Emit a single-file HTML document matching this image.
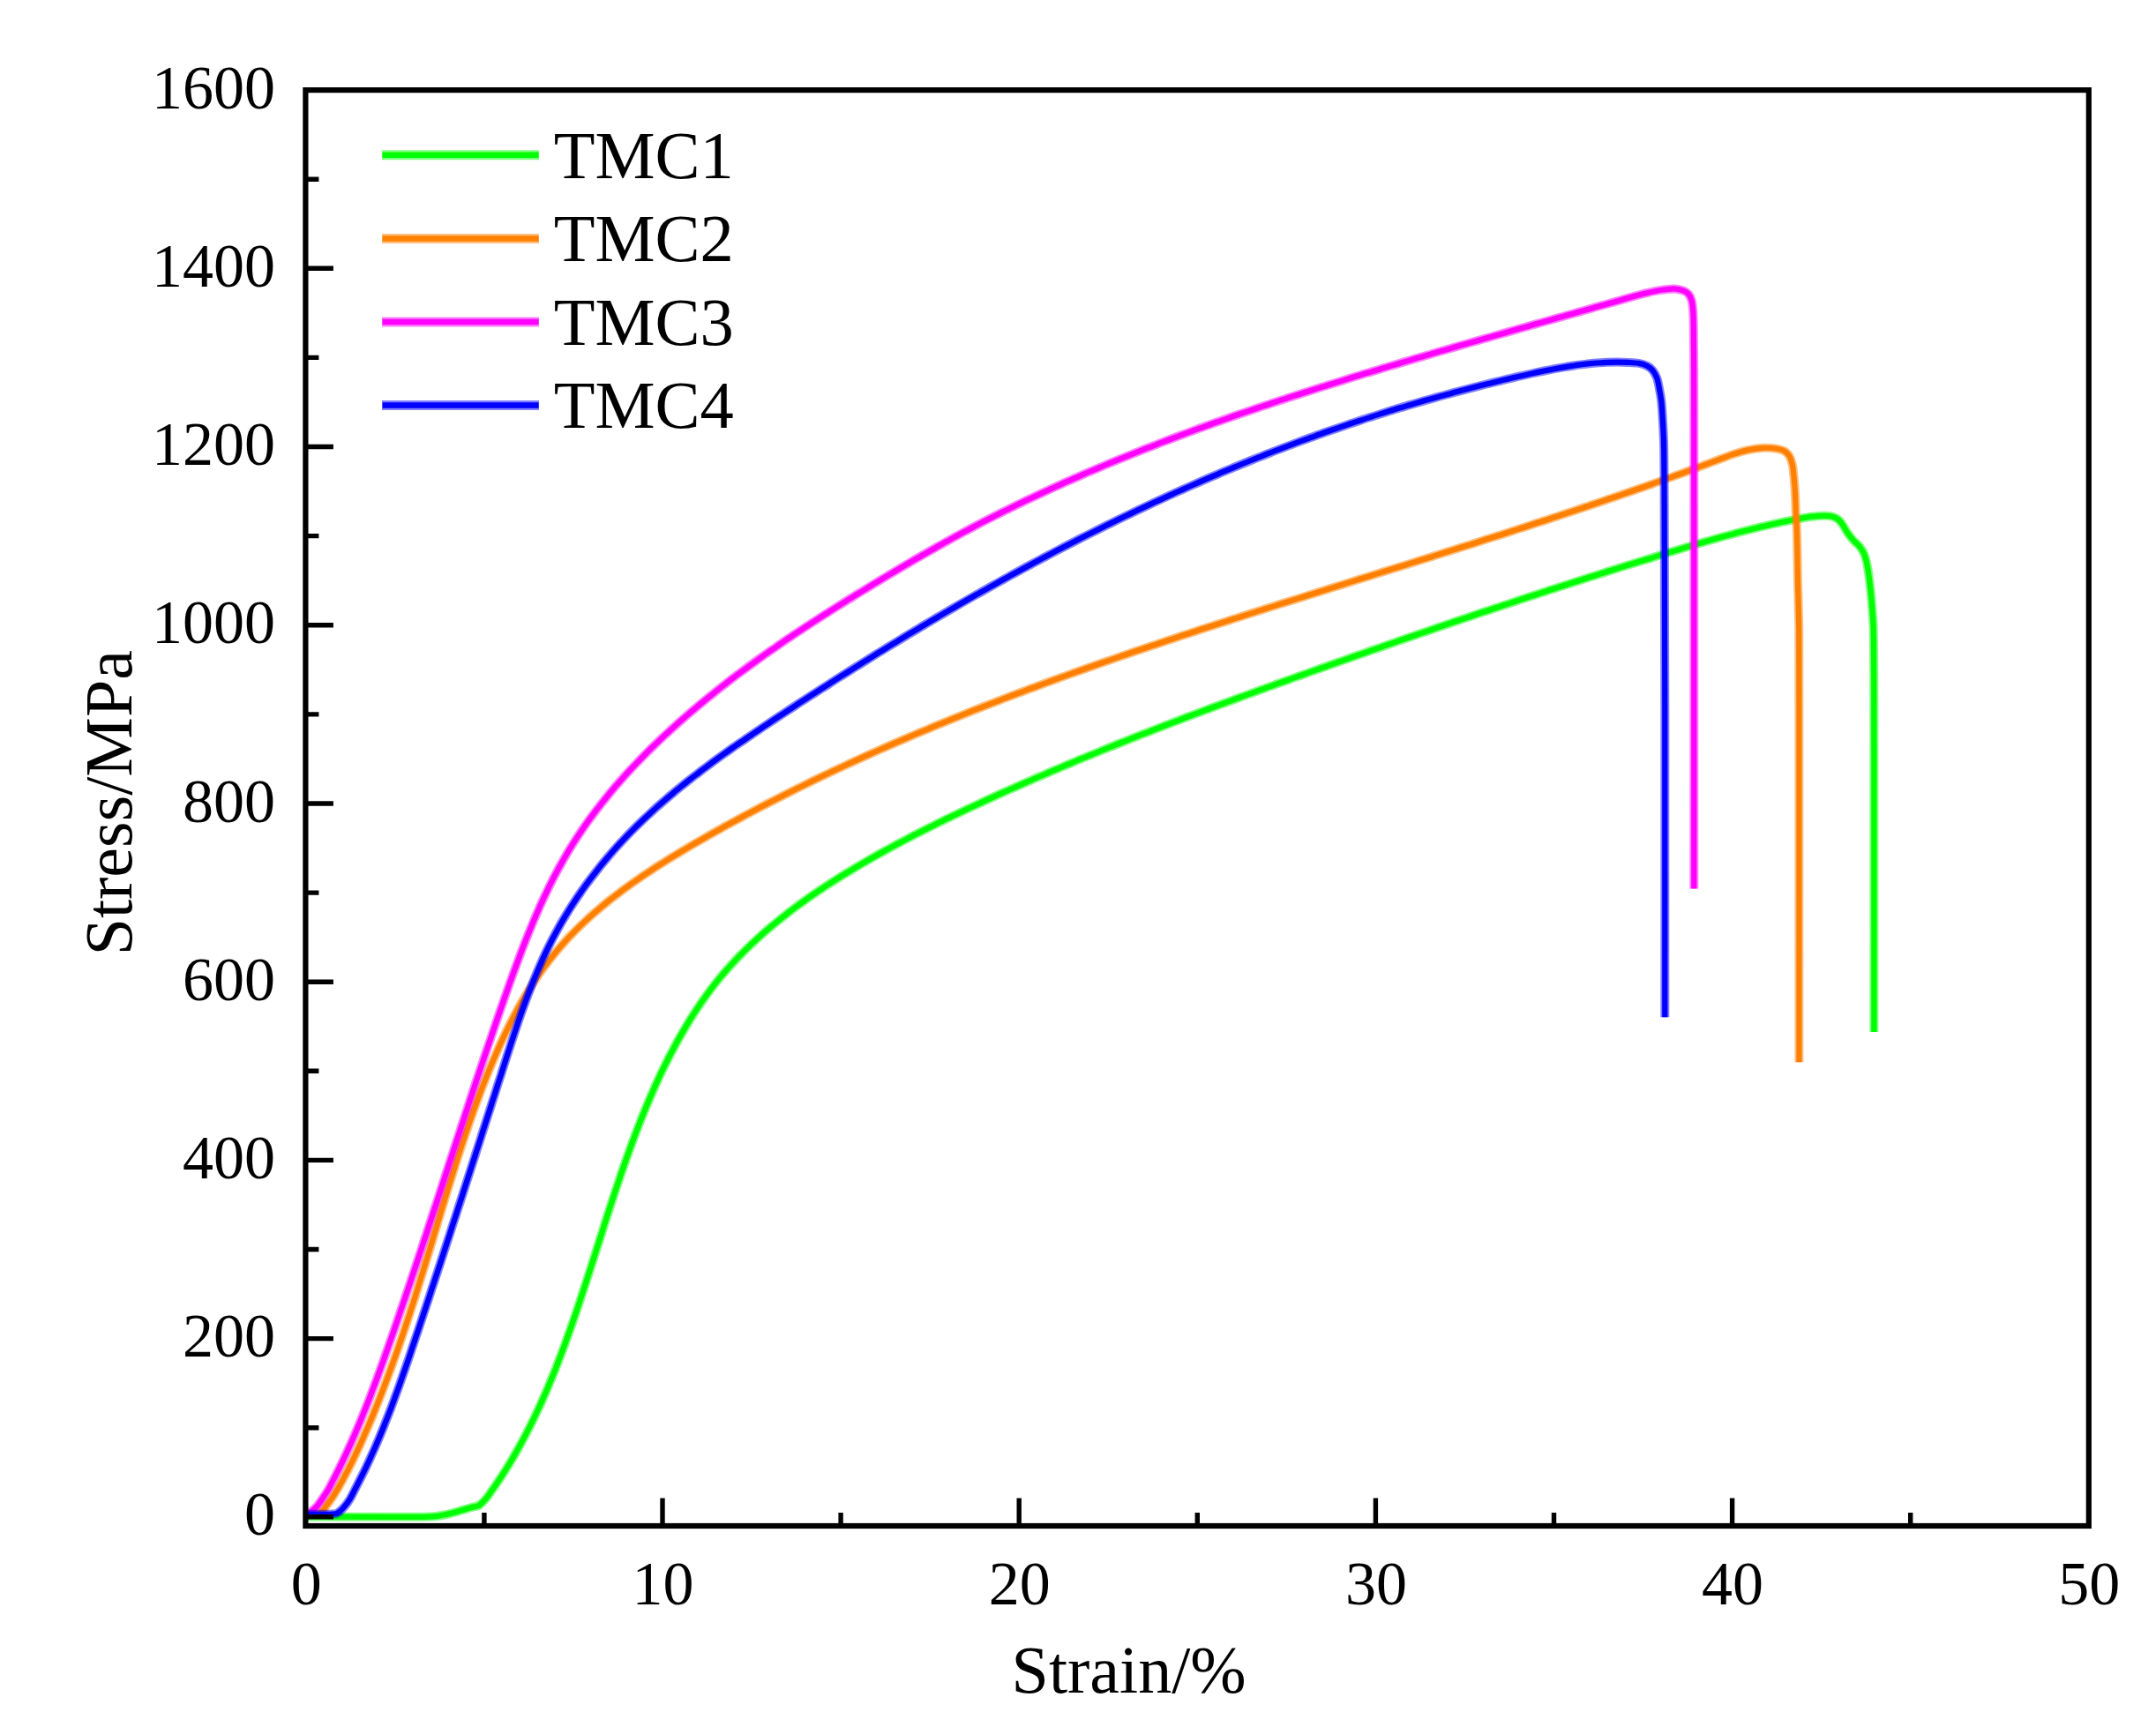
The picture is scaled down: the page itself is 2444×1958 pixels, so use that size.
<!DOCTYPE html>
<html lang="en"><head><meta charset="utf-8"><title>Stress-strain curves</title>
<style>html,body{margin:0;padding:0;background:#fff}body{width:2444px;height:1958px;overflow:hidden}svg{display:block}text{font-family:"Liberation Serif",serif;fill:#000}.t{font-size:70px}.l{font-size:76px}.g{font-size:76.5px}</style></head><body>
<svg width="2444" height="1958" viewBox="0 0 2444 1958">
<rect width="2444" height="1958" fill="#fff"/>
<g fill="none" stroke-width="6.2" stroke-linejoin="round" stroke-linecap="butt">
<path stroke="#00ff00" stroke-opacity=".5" stroke-width="10" d="M348.8 1719.6 C379.2 1719.7 417.8 1719.8 440.0 1719.8 C452.7 1719.8 461.6 1719.9 470.0 1719.8 C476.2 1719.8 481.3 1719.8 486.0 1719.6 C489.7 1719.4 492.6 1719.2 496.0 1718.8 C499.6 1718.3 503.1 1717.7 507.0 1716.8 C511.4 1715.8 516.3 1714.3 520.9 1713.0 C525.5 1711.7 530.8 1710.1 534.8 1709.0 C537.9 1708.2 540.3 1707.6 543.1 1706.9 C543.1 1706.9 543.1 1706.9 543.1 1706.9 C545.7 1704.4 548.4 1702.1 550.8 1699.3 C553.3 1696.4 555.5 1692.8 557.8 1689.5 C560.2 1686.2 562.4 1682.9 564.7 1679.5 C566.9 1676.2 569.1 1672.8 571.2 1669.5 C573.4 1666.1 575.5 1662.7 577.6 1659.3 C579.6 1655.8 581.7 1652.4 583.7 1648.9 C585.7 1645.5 587.6 1642.0 589.5 1638.5 C591.5 1635.0 593.3 1631.5 595.2 1628.0 C597.0 1624.5 598.9 1620.9 600.6 1617.4 C602.4 1613.8 604.2 1610.2 605.9 1606.7 C607.6 1603.1 609.3 1599.5 611.0 1595.8 C612.7 1592.2 614.3 1588.6 615.9 1584.9 C617.5 1581.3 619.1 1577.6 620.7 1574.0 C622.2 1570.3 623.8 1566.6 625.3 1562.9 C626.8 1559.2 628.3 1555.5 629.8 1551.8 C631.2 1548.0 632.7 1544.3 634.1 1540.6 C635.6 1536.8 637.0 1533.1 638.4 1529.3 C639.8 1525.5 641.2 1521.8 642.5 1518.0 C643.9 1514.2 645.3 1510.4 646.6 1506.6 C647.9 1502.8 649.3 1499.0 650.6 1495.1 C651.9 1491.3 653.2 1487.5 654.5 1483.7 C655.8 1479.8 657.1 1476.0 658.3 1472.1 C659.6 1468.3 660.9 1464.4 662.1 1460.6 C663.4 1456.7 664.6 1452.9 665.9 1449.0 C667.1 1445.1 668.4 1441.3 669.6 1437.4 C670.9 1433.5 672.1 1429.6 673.3 1425.8 C674.6 1421.9 675.8 1418.0 677.0 1414.1 C678.3 1410.3 679.5 1406.4 680.7 1402.5 C682.0 1398.6 683.2 1394.7 684.4 1390.9 C685.7 1387.0 686.9 1383.1 688.1 1379.2 C689.4 1375.4 690.6 1371.5 691.9 1367.6 C693.1 1363.8 694.4 1359.9 695.7 1356.0 C696.9 1352.2 698.2 1348.3 699.5 1344.5 C700.8 1340.6 702.1 1336.8 703.4 1332.9 C704.7 1329.1 706.0 1325.2 707.4 1321.4 C708.7 1317.6 710.0 1313.8 711.4 1310.0 C712.8 1306.2 714.1 1302.3 715.5 1298.6 C716.9 1294.8 718.3 1291.0 719.7 1287.2 C721.2 1283.4 722.6 1279.7 724.1 1275.9 C725.5 1272.2 727.0 1268.4 728.5 1264.7 C730.0 1260.9 731.5 1257.2 733.1 1253.5 C734.6 1249.8 736.2 1246.1 737.8 1242.4 C739.4 1238.8 741.0 1235.1 742.6 1231.4 C744.3 1227.8 745.9 1224.2 747.6 1220.5 C749.3 1216.9 751.0 1213.3 752.8 1209.7 C754.5 1206.2 756.3 1202.6 758.1 1199.0 C759.9 1195.5 761.8 1191.9 763.7 1188.4 C765.5 1184.9 767.4 1181.4 769.4 1177.9 C771.3 1174.5 773.3 1171.0 775.3 1167.6 C777.3 1164.2 779.4 1160.7 781.4 1157.4 C783.5 1154.0 785.7 1150.6 787.8 1147.3 C790.0 1144.0 792.2 1140.7 794.4 1137.4 C796.7 1134.1 799.0 1130.9 801.3 1127.7 C803.6 1124.5 806.0 1121.3 808.4 1118.2 C810.8 1115.1 813.3 1112.0 815.8 1108.9 C818.3 1105.9 820.9 1102.8 823.5 1099.9 C826.1 1096.9 828.8 1093.9 831.5 1091.0 C834.2 1088.1 836.9 1085.2 839.7 1082.4 C842.5 1079.5 845.3 1076.7 848.1 1074.0 C851.0 1071.2 853.9 1068.5 856.8 1065.8 C859.8 1063.0 862.7 1060.4 865.7 1057.7 C868.7 1055.1 871.8 1052.5 874.8 1049.9 C877.9 1047.3 881.0 1044.8 884.1 1042.3 C887.3 1039.7 890.4 1037.3 893.6 1034.8 C896.8 1032.3 900.0 1029.9 903.3 1027.5 C906.5 1025.1 909.8 1022.7 913.1 1020.4 C916.4 1018.0 919.7 1015.7 923.0 1013.4 C926.4 1011.1 929.7 1008.9 933.1 1006.6 C936.5 1004.4 939.9 1002.2 943.3 1000.0 C946.7 997.8 950.2 995.6 953.6 993.4 C957.1 991.3 960.5 989.2 964.0 987.1 C967.5 985.0 971.0 982.9 974.5 980.8 C978.0 978.8 981.5 976.7 985.0 974.7 C988.5 972.7 992.1 970.7 995.6 968.7 C999.2 966.7 1002.7 964.8 1006.3 962.8 C1009.8 960.9 1013.4 958.9 1016.9 957.0 C1020.5 955.1 1024.1 953.2 1027.7 951.4 C1031.2 949.5 1034.8 947.6 1038.4 945.8 C1042.0 943.9 1045.6 942.1 1049.2 940.3 C1052.8 938.5 1056.4 936.7 1060.0 934.9 C1063.6 933.1 1067.2 931.3 1070.8 929.5 C1074.5 927.8 1078.1 926.0 1081.7 924.3 C1085.3 922.6 1089.0 920.8 1092.6 919.1 C1096.2 917.4 1099.9 915.7 1103.5 914.0 C1107.2 912.3 1110.8 910.6 1114.5 908.9 C1118.1 907.2 1121.8 905.5 1125.4 903.9 C1129.1 902.2 1132.7 900.6 1136.4 898.9 C1140.1 897.2 1143.7 895.6 1147.4 894.0 C1151.1 892.3 1154.8 890.7 1158.4 889.1 C1162.1 887.5 1165.8 885.9 1169.5 884.3 C1173.2 882.6 1176.8 881.0 1180.5 879.5 C1184.2 877.9 1187.9 876.3 1191.6 874.7 C1195.3 873.1 1199.0 871.6 1202.7 870.0 C1206.4 868.4 1210.1 866.9 1213.8 865.3 C1217.5 863.8 1221.2 862.2 1224.9 860.7 C1228.7 859.2 1232.4 857.6 1236.1 856.1 C1239.8 854.6 1243.5 853.1 1247.3 851.5 C1251.0 850.0 1254.7 848.5 1258.4 847.0 C1262.2 845.5 1265.9 844.0 1269.6 842.5 C1273.3 841.1 1277.1 839.6 1280.8 838.1 C1284.5 836.6 1288.3 835.1 1292.0 833.7 C1295.8 832.2 1299.5 830.7 1303.3 829.3 C1307.0 827.8 1310.7 826.4 1314.5 824.9 C1318.2 823.5 1322.0 822.0 1325.7 820.6 C1329.5 819.2 1333.2 817.7 1337.0 816.3 C1340.7 814.9 1344.5 813.4 1348.3 812.0 C1352.0 810.6 1355.8 809.2 1359.5 807.8 C1363.3 806.4 1367.1 804.9 1370.8 803.5 C1374.6 802.1 1378.4 800.7 1382.1 799.3 C1385.9 797.9 1389.7 796.6 1393.4 795.2 C1397.2 793.8 1401.0 792.4 1404.7 791.0 C1408.5 789.6 1412.3 788.2 1416.0 786.9 C1419.8 785.5 1423.6 784.1 1427.4 782.7 C1431.1 781.4 1434.9 780.0 1438.7 778.6 C1442.5 777.3 1446.2 775.9 1450.0 774.6 C1453.8 773.2 1457.6 771.8 1461.4 770.5 C1465.1 769.1 1468.9 767.8 1472.7 766.4 C1476.5 765.1 1480.3 763.7 1484.0 762.4 C1487.8 761.0 1491.6 759.7 1495.4 758.3 C1499.2 757.0 1503.0 755.7 1506.7 754.3 C1510.5 753.0 1514.3 751.6 1518.1 750.3 C1521.9 749.0 1525.7 747.6 1529.4 746.3 C1533.2 745.0 1537.0 743.6 1540.8 742.3 C1544.6 741.0 1548.4 739.6 1552.1 738.3 C1555.9 737.0 1559.7 735.7 1563.5 734.4 C1567.3 733.0 1571.1 731.7 1574.9 730.4 C1578.7 729.1 1582.4 727.8 1586.2 726.4 C1590.0 725.1 1593.8 723.8 1597.6 722.5 C1601.4 721.2 1605.2 719.9 1609.0 718.6 C1612.8 717.3 1616.6 716.0 1620.4 714.7 C1624.2 713.4 1627.9 712.1 1631.7 710.8 C1635.5 709.5 1639.3 708.2 1643.1 706.9 C1646.9 705.6 1650.7 704.3 1654.5 703.0 C1658.3 701.7 1662.1 700.5 1665.9 699.2 C1669.7 697.9 1673.5 696.6 1677.3 695.3 C1681.1 694.0 1684.9 692.8 1688.8 691.5 C1692.6 690.2 1696.4 688.9 1700.2 687.7 C1704.0 686.4 1707.8 685.1 1711.6 683.9 C1715.4 682.6 1719.2 681.4 1723.0 680.1 C1726.8 678.8 1730.7 677.6 1734.5 676.3 C1738.3 675.1 1742.1 673.8 1745.9 672.6 C1749.7 671.3 1753.6 670.1 1757.4 668.8 C1761.2 667.6 1765.0 666.3 1768.8 665.1 C1772.7 663.9 1776.5 662.6 1780.3 661.4 C1784.1 660.2 1788.0 658.9 1791.8 657.7 C1795.6 656.5 1799.5 655.3 1803.3 654.0 C1807.1 652.8 1811.0 651.6 1814.8 650.4 C1818.6 649.2 1822.5 647.9 1826.3 646.7 C1830.2 645.5 1834.0 644.3 1837.8 643.1 C1841.7 641.9 1845.5 640.7 1849.4 639.5 C1853.2 638.3 1857.1 637.1 1860.9 635.9 C1864.8 634.7 1868.6 633.5 1872.5 632.4 C1876.3 631.2 1880.2 630.0 1884.0 628.8 C1887.9 627.6 1891.8 626.5 1895.6 625.3 C1899.5 624.1 1903.3 622.9 1907.2 621.8 C1911.1 620.6 1914.9 619.5 1918.8 618.3 C1922.7 617.2 1926.6 616.0 1930.4 614.9 C1934.3 613.8 1938.2 612.7 1942.1 611.6 C1945.9 610.5 1949.8 609.4 1953.7 608.3 C1957.6 607.3 1961.5 606.2 1965.4 605.2 C1969.2 604.1 1973.1 603.1 1977.0 602.1 C1980.9 601.1 1984.8 600.1 1988.7 599.2 C1992.6 598.2 1996.5 597.3 2000.4 596.4 C2004.3 595.5 2008.2 594.6 2012.1 593.7 C2016.0 592.9 2019.9 592.0 2023.9 591.2 C2027.8 590.4 2031.2 589.7 2035.6 588.9 C2041.1 587.9 2048.4 586.4 2054.2 585.7 C2059.2 585.1 2063.9 584.7 2068.1 584.8 C2071.5 584.9 2074.6 584.9 2077.4 585.7 C2079.8 586.4 2082.0 587.5 2083.9 589.0 C2085.7 590.5 2087.0 592.4 2088.5 594.5 C2090.4 597.1 2092.1 600.8 2094.1 603.8 C2096.1 606.7 2098.3 609.6 2100.6 612.2 C2102.9 614.8 2105.9 617.0 2108.0 619.6 C2109.9 622.0 2111.5 624.4 2112.7 627.0 C2113.9 629.6 2114.6 632.2 2115.4 635.3 C2116.3 638.9 2117.1 643.2 2117.8 647.4 C2118.5 651.9 2119.0 656.3 2119.6 661.3 C2120.3 667.0 2120.9 673.7 2121.5 679.9 C2122.0 686.1 2122.5 692.9 2122.9 698.4 C2123.2 702.7 2123.4 704.8 2123.6 710.0 C2124.0 720.8 2124.1 740.9 2124.2 760.0 C2124.4 785.6 2124.4 810.8 2124.4 850.0 C2124.5 923.9 2124.4 1063.3 2124.4 1169.9"/>
<path stroke="#00ff00" d="M348.8 1719.6 C379.2 1719.7 417.8 1719.8 440.0 1719.8 C452.7 1719.8 461.6 1719.9 470.0 1719.8 C476.2 1719.8 481.3 1719.8 486.0 1719.6 C489.7 1719.4 492.6 1719.2 496.0 1718.8 C499.6 1718.3 503.1 1717.7 507.0 1716.8 C511.4 1715.8 516.3 1714.3 520.9 1713.0 C525.5 1711.7 530.8 1710.1 534.8 1709.0 C537.9 1708.2 540.3 1707.6 543.1 1706.9 C543.1 1706.9 543.1 1706.9 543.1 1706.9 C545.7 1704.4 548.4 1702.1 550.8 1699.3 C553.3 1696.4 555.5 1692.8 557.8 1689.5 C560.2 1686.2 562.4 1682.9 564.7 1679.5 C566.9 1676.2 569.1 1672.8 571.2 1669.5 C573.4 1666.1 575.5 1662.7 577.6 1659.3 C579.6 1655.8 581.7 1652.4 583.7 1648.9 C585.7 1645.5 587.6 1642.0 589.5 1638.5 C591.5 1635.0 593.3 1631.5 595.2 1628.0 C597.0 1624.5 598.9 1620.9 600.6 1617.4 C602.4 1613.8 604.2 1610.2 605.9 1606.7 C607.6 1603.1 609.3 1599.5 611.0 1595.8 C612.7 1592.2 614.3 1588.6 615.9 1584.9 C617.5 1581.3 619.1 1577.6 620.7 1574.0 C622.2 1570.3 623.8 1566.6 625.3 1562.9 C626.8 1559.2 628.3 1555.5 629.8 1551.8 C631.2 1548.0 632.7 1544.3 634.1 1540.6 C635.6 1536.8 637.0 1533.1 638.4 1529.3 C639.8 1525.5 641.2 1521.8 642.5 1518.0 C643.9 1514.2 645.3 1510.4 646.6 1506.6 C647.9 1502.8 649.3 1499.0 650.6 1495.1 C651.9 1491.3 653.2 1487.5 654.5 1483.7 C655.8 1479.8 657.1 1476.0 658.3 1472.1 C659.6 1468.3 660.9 1464.4 662.1 1460.6 C663.4 1456.7 664.6 1452.9 665.9 1449.0 C667.1 1445.1 668.4 1441.3 669.6 1437.4 C670.9 1433.5 672.1 1429.6 673.3 1425.8 C674.6 1421.9 675.8 1418.0 677.0 1414.1 C678.3 1410.3 679.5 1406.4 680.7 1402.5 C682.0 1398.6 683.2 1394.7 684.4 1390.9 C685.7 1387.0 686.9 1383.1 688.1 1379.2 C689.4 1375.4 690.6 1371.5 691.9 1367.6 C693.1 1363.8 694.4 1359.9 695.7 1356.0 C696.9 1352.2 698.2 1348.3 699.5 1344.5 C700.8 1340.6 702.1 1336.8 703.4 1332.9 C704.7 1329.1 706.0 1325.2 707.4 1321.4 C708.7 1317.6 710.0 1313.8 711.4 1310.0 C712.8 1306.2 714.1 1302.3 715.5 1298.6 C716.9 1294.8 718.3 1291.0 719.7 1287.2 C721.2 1283.4 722.6 1279.7 724.1 1275.9 C725.5 1272.2 727.0 1268.4 728.5 1264.7 C730.0 1260.9 731.5 1257.2 733.1 1253.5 C734.6 1249.8 736.2 1246.1 737.8 1242.4 C739.4 1238.8 741.0 1235.1 742.6 1231.4 C744.3 1227.8 745.9 1224.2 747.6 1220.5 C749.3 1216.9 751.0 1213.3 752.8 1209.7 C754.5 1206.2 756.3 1202.6 758.1 1199.0 C759.9 1195.5 761.8 1191.9 763.7 1188.4 C765.5 1184.9 767.4 1181.4 769.4 1177.9 C771.3 1174.5 773.3 1171.0 775.3 1167.6 C777.3 1164.2 779.4 1160.7 781.4 1157.4 C783.5 1154.0 785.7 1150.6 787.8 1147.3 C790.0 1144.0 792.2 1140.7 794.4 1137.4 C796.7 1134.1 799.0 1130.9 801.3 1127.7 C803.6 1124.5 806.0 1121.3 808.4 1118.2 C810.8 1115.1 813.3 1112.0 815.8 1108.9 C818.3 1105.9 820.9 1102.8 823.5 1099.9 C826.1 1096.9 828.8 1093.9 831.5 1091.0 C834.2 1088.1 836.9 1085.2 839.7 1082.4 C842.5 1079.5 845.3 1076.7 848.1 1074.0 C851.0 1071.2 853.9 1068.5 856.8 1065.8 C859.8 1063.0 862.7 1060.4 865.7 1057.7 C868.7 1055.1 871.8 1052.5 874.8 1049.9 C877.9 1047.3 881.0 1044.8 884.1 1042.3 C887.3 1039.7 890.4 1037.3 893.6 1034.8 C896.8 1032.3 900.0 1029.9 903.3 1027.5 C906.5 1025.1 909.8 1022.7 913.1 1020.4 C916.4 1018.0 919.7 1015.7 923.0 1013.4 C926.4 1011.1 929.7 1008.9 933.1 1006.6 C936.5 1004.4 939.9 1002.2 943.3 1000.0 C946.7 997.8 950.2 995.6 953.6 993.4 C957.1 991.3 960.5 989.2 964.0 987.1 C967.5 985.0 971.0 982.9 974.5 980.8 C978.0 978.8 981.5 976.7 985.0 974.7 C988.5 972.7 992.1 970.7 995.6 968.7 C999.2 966.7 1002.7 964.8 1006.3 962.8 C1009.8 960.9 1013.4 958.9 1016.9 957.0 C1020.5 955.1 1024.1 953.2 1027.7 951.4 C1031.2 949.5 1034.8 947.6 1038.4 945.8 C1042.0 943.9 1045.6 942.1 1049.2 940.3 C1052.8 938.5 1056.4 936.7 1060.0 934.9 C1063.6 933.1 1067.2 931.3 1070.8 929.5 C1074.5 927.8 1078.1 926.0 1081.7 924.3 C1085.3 922.6 1089.0 920.8 1092.6 919.1 C1096.2 917.4 1099.9 915.7 1103.5 914.0 C1107.2 912.3 1110.8 910.6 1114.5 908.9 C1118.1 907.2 1121.8 905.5 1125.4 903.9 C1129.1 902.2 1132.7 900.6 1136.4 898.9 C1140.1 897.2 1143.7 895.6 1147.4 894.0 C1151.1 892.3 1154.8 890.7 1158.4 889.1 C1162.1 887.5 1165.8 885.9 1169.5 884.3 C1173.2 882.6 1176.8 881.0 1180.5 879.5 C1184.2 877.9 1187.9 876.3 1191.6 874.7 C1195.3 873.1 1199.0 871.6 1202.7 870.0 C1206.4 868.4 1210.1 866.9 1213.8 865.3 C1217.5 863.8 1221.2 862.2 1224.9 860.7 C1228.7 859.2 1232.4 857.6 1236.1 856.1 C1239.8 854.6 1243.5 853.1 1247.3 851.5 C1251.0 850.0 1254.7 848.5 1258.4 847.0 C1262.2 845.5 1265.9 844.0 1269.6 842.5 C1273.3 841.1 1277.1 839.6 1280.8 838.1 C1284.5 836.6 1288.3 835.1 1292.0 833.7 C1295.8 832.2 1299.5 830.7 1303.3 829.3 C1307.0 827.8 1310.7 826.4 1314.5 824.9 C1318.2 823.5 1322.0 822.0 1325.7 820.6 C1329.5 819.2 1333.2 817.7 1337.0 816.3 C1340.7 814.9 1344.5 813.4 1348.3 812.0 C1352.0 810.6 1355.8 809.2 1359.5 807.8 C1363.3 806.4 1367.1 804.9 1370.8 803.5 C1374.6 802.1 1378.4 800.7 1382.1 799.3 C1385.9 797.9 1389.7 796.6 1393.4 795.2 C1397.2 793.8 1401.0 792.4 1404.7 791.0 C1408.5 789.6 1412.3 788.2 1416.0 786.9 C1419.8 785.5 1423.6 784.1 1427.4 782.7 C1431.1 781.4 1434.9 780.0 1438.7 778.6 C1442.5 777.3 1446.2 775.9 1450.0 774.6 C1453.8 773.2 1457.6 771.8 1461.4 770.5 C1465.1 769.1 1468.9 767.8 1472.7 766.4 C1476.5 765.1 1480.3 763.7 1484.0 762.4 C1487.8 761.0 1491.6 759.7 1495.4 758.3 C1499.2 757.0 1503.0 755.7 1506.7 754.3 C1510.5 753.0 1514.3 751.6 1518.1 750.3 C1521.9 749.0 1525.7 747.6 1529.4 746.3 C1533.2 745.0 1537.0 743.6 1540.8 742.3 C1544.6 741.0 1548.4 739.6 1552.1 738.3 C1555.9 737.0 1559.7 735.7 1563.5 734.4 C1567.3 733.0 1571.1 731.7 1574.9 730.4 C1578.7 729.1 1582.4 727.8 1586.2 726.4 C1590.0 725.1 1593.8 723.8 1597.6 722.5 C1601.4 721.2 1605.2 719.9 1609.0 718.6 C1612.8 717.3 1616.6 716.0 1620.4 714.7 C1624.2 713.4 1627.9 712.1 1631.7 710.8 C1635.5 709.5 1639.3 708.2 1643.1 706.9 C1646.9 705.6 1650.7 704.3 1654.5 703.0 C1658.3 701.7 1662.1 700.5 1665.9 699.2 C1669.7 697.9 1673.5 696.6 1677.3 695.3 C1681.1 694.0 1684.9 692.8 1688.8 691.5 C1692.6 690.2 1696.4 688.9 1700.2 687.7 C1704.0 686.4 1707.8 685.1 1711.6 683.9 C1715.4 682.6 1719.2 681.4 1723.0 680.1 C1726.8 678.8 1730.7 677.6 1734.5 676.3 C1738.3 675.1 1742.1 673.8 1745.9 672.6 C1749.7 671.3 1753.6 670.1 1757.4 668.8 C1761.2 667.6 1765.0 666.3 1768.8 665.1 C1772.7 663.9 1776.5 662.6 1780.3 661.4 C1784.1 660.2 1788.0 658.9 1791.8 657.7 C1795.6 656.5 1799.5 655.3 1803.3 654.0 C1807.1 652.8 1811.0 651.6 1814.8 650.4 C1818.6 649.2 1822.5 647.9 1826.3 646.7 C1830.2 645.5 1834.0 644.3 1837.8 643.1 C1841.7 641.9 1845.5 640.7 1849.4 639.5 C1853.2 638.3 1857.1 637.1 1860.9 635.9 C1864.8 634.7 1868.6 633.5 1872.5 632.4 C1876.3 631.2 1880.2 630.0 1884.0 628.8 C1887.9 627.6 1891.8 626.5 1895.6 625.3 C1899.5 624.1 1903.3 622.9 1907.2 621.8 C1911.1 620.6 1914.9 619.5 1918.8 618.3 C1922.7 617.2 1926.6 616.0 1930.4 614.9 C1934.3 613.8 1938.2 612.7 1942.1 611.6 C1945.9 610.5 1949.8 609.4 1953.7 608.3 C1957.6 607.3 1961.5 606.2 1965.4 605.2 C1969.2 604.1 1973.1 603.1 1977.0 602.1 C1980.9 601.1 1984.8 600.1 1988.7 599.2 C1992.6 598.2 1996.5 597.3 2000.4 596.4 C2004.3 595.5 2008.2 594.6 2012.1 593.7 C2016.0 592.9 2019.9 592.0 2023.9 591.2 C2027.8 590.4 2031.2 589.7 2035.6 588.9 C2041.1 587.9 2048.4 586.4 2054.2 585.7 C2059.2 585.1 2063.9 584.7 2068.1 584.8 C2071.5 584.9 2074.6 584.9 2077.4 585.7 C2079.8 586.4 2082.0 587.5 2083.9 589.0 C2085.7 590.5 2087.0 592.4 2088.5 594.5 C2090.4 597.1 2092.1 600.8 2094.1 603.8 C2096.1 606.7 2098.3 609.6 2100.6 612.2 C2102.9 614.8 2105.9 617.0 2108.0 619.6 C2109.9 622.0 2111.5 624.4 2112.7 627.0 C2113.9 629.6 2114.6 632.2 2115.4 635.3 C2116.3 638.9 2117.1 643.2 2117.8 647.4 C2118.5 651.9 2119.0 656.3 2119.6 661.3 C2120.3 667.0 2120.9 673.7 2121.5 679.9 C2122.0 686.1 2122.5 692.9 2122.9 698.4 C2123.2 702.7 2123.4 704.8 2123.6 710.0 C2124.0 720.8 2124.1 740.9 2124.2 760.0 C2124.4 785.6 2124.4 810.8 2124.4 850.0 C2124.5 923.9 2124.4 1063.3 2124.4 1169.9"/>
<path stroke="#ff8000" stroke-opacity=".5" stroke-width="10" d="M348.8 1717.5 C351.5 1717.3 354.5 1717.3 357.0 1716.8 C359.2 1716.3 361.3 1715.8 363.0 1714.8 C364.6 1713.9 365.8 1712.8 367.0 1711.5 C368.3 1710.1 369.1 1708.4 370.5 1706.5 C372.3 1703.9 374.9 1700.6 377.0 1697.5 C379.1 1694.4 380.9 1691.3 382.8 1688.1 C384.8 1684.7 386.8 1681.1 388.7 1677.5 C390.6 1674.0 392.5 1670.4 394.3 1666.9 C396.1 1663.3 397.9 1659.7 399.7 1656.2 C401.4 1652.6 403.1 1649.0 404.8 1645.4 C406.5 1641.7 408.2 1638.1 409.8 1634.5 C411.4 1630.9 413.0 1627.2 414.6 1623.6 C416.2 1619.9 417.8 1616.2 419.3 1612.6 C420.9 1608.9 422.4 1605.2 423.9 1601.5 C425.4 1597.8 426.9 1594.1 428.4 1590.4 C429.9 1586.7 431.3 1583.0 432.8 1579.2 C434.2 1575.5 435.6 1571.8 437.0 1568.0 C438.5 1564.3 439.8 1560.5 441.2 1556.8 C442.6 1553.0 444.0 1549.2 445.3 1545.5 C446.7 1541.7 448.0 1537.9 449.4 1534.1 C450.7 1530.3 452.0 1526.5 453.3 1522.7 C454.6 1518.9 455.9 1515.1 457.2 1511.3 C458.5 1507.5 459.7 1503.7 461.0 1499.9 C462.3 1496.0 463.5 1492.2 464.8 1488.4 C466.0 1484.5 467.2 1480.7 468.5 1476.9 C469.7 1473.0 470.9 1469.2 472.1 1465.4 C473.3 1461.5 474.5 1457.7 475.7 1453.8 C476.9 1450.0 478.1 1446.1 479.3 1442.2 C480.5 1438.4 481.7 1434.5 482.8 1430.7 C484.0 1426.8 485.2 1423.0 486.4 1419.1 C487.5 1415.2 488.7 1411.4 489.9 1407.5 C491.0 1403.6 492.2 1399.8 493.3 1395.9 C494.5 1392.1 495.7 1388.2 496.8 1384.3 C498.0 1380.5 499.1 1376.6 500.3 1372.7 C501.5 1368.9 502.6 1365.0 503.8 1361.2 C505.0 1357.3 506.1 1353.4 507.3 1349.6 C508.5 1345.7 509.7 1341.9 510.9 1338.0 C512.1 1334.2 513.3 1330.3 514.5 1326.5 C515.7 1322.7 516.9 1318.8 518.1 1315.0 C519.3 1311.1 520.6 1307.3 521.8 1303.5 C523.1 1299.6 524.3 1295.8 525.6 1292.0 C526.9 1288.2 528.2 1284.4 529.5 1280.6 C530.8 1276.7 532.1 1272.9 533.4 1269.1 C534.7 1265.3 536.1 1261.5 537.4 1257.8 C538.8 1254.0 540.2 1250.2 541.6 1246.4 C543.0 1242.6 544.4 1238.9 545.8 1235.1 C547.3 1231.4 548.7 1227.6 550.2 1223.9 C551.7 1220.1 553.2 1216.4 554.7 1212.7 C556.3 1208.9 557.8 1205.2 559.4 1201.5 C561.0 1197.8 562.6 1194.1 564.2 1190.4 C565.8 1186.7 567.5 1183.1 569.2 1179.4 C570.9 1175.8 572.6 1172.1 574.3 1168.5 C576.1 1164.9 577.9 1161.3 579.7 1157.8 C581.5 1154.2 583.4 1150.6 585.3 1147.1 C587.2 1143.6 589.1 1140.1 591.1 1136.6 C593.0 1133.2 595.0 1129.7 597.1 1126.3 C599.1 1122.9 601.2 1119.6 603.4 1116.2 C605.5 1112.9 607.7 1109.6 609.9 1106.3 C612.1 1103.0 614.4 1099.8 616.7 1096.6 C619.1 1093.4 621.4 1090.3 623.9 1087.2 C626.3 1084.1 628.8 1081.0 631.3 1078.0 C633.8 1075.0 636.4 1072.0 639.0 1069.1 C641.7 1066.1 644.3 1063.2 647.1 1060.4 C649.8 1057.5 652.6 1054.7 655.4 1052.0 C658.2 1049.2 661.1 1046.5 664.0 1043.8 C666.9 1041.1 669.8 1038.4 672.8 1035.8 C675.8 1033.2 678.8 1030.6 681.8 1028.1 C684.9 1025.5 688.0 1023.0 691.1 1020.5 C694.2 1018.0 697.4 1015.6 700.6 1013.2 C703.8 1010.7 707.0 1008.3 710.2 1006.0 C713.5 1003.6 716.8 1001.3 720.1 999.0 C723.4 996.7 726.7 994.4 730.0 992.1 C733.4 989.9 736.8 987.6 740.1 985.4 C743.5 983.2 746.9 981.0 750.4 978.8 C753.8 976.7 757.2 974.5 760.7 972.4 C764.2 970.3 767.6 968.2 771.1 966.1 C774.6 964.0 778.1 961.9 781.6 959.8 C785.1 957.8 788.6 955.7 792.1 953.7 C795.7 951.7 799.2 949.6 802.7 947.6 C806.2 945.6 809.8 943.6 813.3 941.7 C816.9 939.7 820.4 937.7 823.9 935.7 C827.5 933.8 831.0 931.8 834.6 929.9 C838.2 928.0 841.7 926.0 845.3 924.1 C848.8 922.2 852.4 920.3 856.0 918.4 C859.6 916.5 863.1 914.7 866.7 912.8 C870.3 910.9 873.9 909.1 877.5 907.2 C881.1 905.4 884.7 903.5 888.3 901.7 C891.9 899.9 895.5 898.1 899.1 896.3 C902.7 894.5 906.3 892.7 909.9 890.9 C913.5 889.1 917.1 887.4 920.7 885.6 C924.4 883.8 928.0 882.1 931.6 880.3 C935.2 878.6 938.9 876.9 942.5 875.1 C946.1 873.4 949.8 871.7 953.4 870.0 C957.1 868.3 960.7 866.6 964.4 864.9 C968.0 863.2 971.7 861.6 975.3 859.9 C979.0 858.2 982.6 856.6 986.3 854.9 C990.0 853.3 993.6 851.7 997.3 850.0 C1001.0 848.4 1004.6 846.8 1008.3 845.2 C1012.0 843.6 1015.7 842.0 1019.3 840.4 C1023.0 838.8 1026.7 837.2 1030.4 835.6 C1034.1 834.0 1037.8 832.5 1041.5 830.9 C1045.2 829.4 1048.9 827.8 1052.6 826.3 C1056.3 824.7 1060.0 823.2 1063.7 821.6 C1067.4 820.1 1071.1 818.6 1074.8 817.1 C1078.5 815.6 1082.2 814.1 1085.9 812.6 C1089.6 811.1 1093.4 809.6 1097.1 808.1 C1100.8 806.6 1104.5 805.1 1108.3 803.7 C1112.0 802.2 1115.7 800.7 1119.5 799.3 C1123.2 797.8 1126.9 796.4 1130.7 794.9 C1134.4 793.5 1138.1 792.1 1141.9 790.6 C1145.6 789.2 1149.4 787.8 1153.1 786.4 C1156.9 785.0 1160.6 783.6 1164.4 782.2 C1168.1 780.7 1171.9 779.4 1175.6 778.0 C1179.4 776.6 1183.1 775.2 1186.9 773.8 C1190.7 772.4 1194.4 771.1 1198.2 769.7 C1202.0 768.3 1205.7 767.0 1209.5 765.6 C1213.3 764.2 1217.0 762.9 1220.8 761.5 C1224.6 760.2 1228.4 758.9 1232.1 757.5 C1235.9 756.2 1239.7 754.9 1243.5 753.5 C1247.3 752.2 1251.0 750.9 1254.8 749.6 C1258.6 748.3 1262.4 746.9 1266.2 745.6 C1270.0 744.3 1273.8 743.0 1277.5 741.7 C1281.3 740.4 1285.1 739.1 1288.9 737.8 C1292.7 736.6 1296.5 735.3 1300.3 734.0 C1304.1 732.7 1307.9 731.4 1311.7 730.2 C1315.5 728.9 1319.3 727.6 1323.1 726.3 C1326.9 725.1 1330.7 723.8 1334.5 722.6 C1338.3 721.3 1342.1 720.0 1345.9 718.8 C1349.8 717.5 1353.6 716.3 1357.4 715.0 C1361.2 713.8 1365.0 712.6 1368.8 711.3 C1372.6 710.1 1376.4 708.8 1380.2 707.6 C1384.1 706.4 1387.9 705.1 1391.7 703.9 C1395.5 702.7 1399.3 701.4 1403.2 700.2 C1407.0 699.0 1410.8 697.8 1414.6 696.6 C1418.4 695.3 1422.3 694.1 1426.1 692.9 C1429.9 691.7 1433.7 690.5 1437.5 689.3 C1441.4 688.0 1445.2 686.8 1449.0 685.6 C1452.8 684.4 1456.7 683.2 1460.5 682.0 C1464.3 680.8 1468.1 679.6 1472.0 678.4 C1475.8 677.2 1479.6 676.0 1483.5 674.8 C1487.3 673.6 1491.1 672.4 1494.9 671.2 C1498.8 670.0 1502.6 668.8 1506.4 667.6 C1510.3 666.4 1514.1 665.2 1517.9 664.0 C1521.8 662.8 1525.6 661.6 1529.4 660.4 C1533.2 659.2 1537.1 658.0 1540.9 656.8 C1544.7 655.6 1548.6 654.4 1552.4 653.2 C1556.2 652.0 1560.1 650.8 1563.9 649.6 C1567.7 648.4 1571.6 647.2 1575.4 646.0 C1579.2 644.8 1583.1 643.7 1586.9 642.5 C1590.7 641.3 1594.6 640.1 1598.4 638.9 C1602.2 637.7 1606.0 636.5 1609.9 635.3 C1613.7 634.1 1617.5 632.9 1621.4 631.7 C1625.2 630.5 1629.0 629.2 1632.9 628.0 C1636.7 626.8 1640.5 625.6 1644.3 624.4 C1648.2 623.2 1652.0 622.0 1655.8 620.8 C1659.7 619.6 1663.5 618.4 1667.3 617.2 C1671.1 615.9 1675.0 614.7 1678.8 613.5 C1682.6 612.3 1686.4 611.1 1690.3 609.8 C1694.1 608.6 1697.9 607.4 1701.7 606.2 C1705.5 604.9 1709.4 603.7 1713.2 602.5 C1717.0 601.2 1720.8 600.0 1724.6 598.8 C1728.5 597.5 1732.3 596.3 1736.1 595.0 C1739.9 593.8 1743.7 592.6 1747.5 591.3 C1751.4 590.1 1755.2 588.8 1759.0 587.5 C1762.8 586.3 1766.6 585.0 1770.4 583.8 C1774.2 582.5 1778.0 581.2 1781.8 580.0 C1785.7 578.7 1789.5 577.4 1793.3 576.1 C1797.1 574.9 1800.9 573.6 1804.7 572.3 C1808.5 571.0 1812.3 569.7 1816.1 568.4 C1819.9 567.1 1823.7 565.8 1827.5 564.5 C1831.3 563.2 1835.1 561.9 1838.9 560.6 C1842.7 559.3 1846.5 558.0 1850.2 556.7 C1854.0 555.3 1857.8 554.0 1861.6 552.7 C1865.4 551.4 1869.2 550.0 1873.0 548.7 C1876.7 547.3 1880.5 546.0 1884.3 544.6 C1888.1 543.3 1891.9 541.9 1895.6 540.6 C1899.4 539.2 1903.2 537.8 1907.0 536.5 C1910.7 535.1 1914.5 533.7 1918.3 532.3 C1922.1 530.9 1925.8 529.5 1929.6 528.1 C1933.3 526.8 1937.1 525.3 1940.9 523.9 C1944.6 522.5 1948.4 521.1 1952.1 519.7 C1955.9 518.3 1959.1 516.8 1963.4 515.4 C1968.8 513.6 1975.9 511.4 1982.0 510.1 C1987.7 508.9 1993.2 508.0 1998.7 507.8 C2004.0 507.6 2010.1 508.0 2014.5 508.8 C2017.8 509.4 2020.5 510.0 2022.9 511.5 C2025.1 512.9 2027.0 514.8 2028.4 517.1 C2030.0 519.7 2030.9 522.9 2031.7 526.4 C2032.7 530.5 2033.0 535.3 2033.5 540.3 C2034.1 546.0 2034.5 552.3 2034.9 558.8 C2035.3 566.1 2035.5 574.8 2035.8 582.0 C2036.1 588.4 2036.5 592.2 2036.8 600.0 C2037.3 614.2 2037.6 640.9 2038.0 660.0 C2038.4 677.4 2038.9 690.9 2039.2 710.0 C2039.5 735.6 2039.4 759.2 2039.4 800.0 C2039.5 886.4 2039.4 1069.5 2039.4 1204.3"/>
<path stroke="#ff8000" d="M348.8 1717.5 C351.5 1717.3 354.5 1717.3 357.0 1716.8 C359.2 1716.3 361.3 1715.8 363.0 1714.8 C364.6 1713.9 365.8 1712.8 367.0 1711.5 C368.3 1710.1 369.1 1708.4 370.5 1706.5 C372.3 1703.9 374.9 1700.6 377.0 1697.5 C379.1 1694.4 380.9 1691.3 382.8 1688.1 C384.8 1684.7 386.8 1681.1 388.7 1677.5 C390.6 1674.0 392.5 1670.4 394.3 1666.9 C396.1 1663.3 397.9 1659.7 399.7 1656.2 C401.4 1652.6 403.1 1649.0 404.8 1645.4 C406.5 1641.7 408.2 1638.1 409.8 1634.5 C411.4 1630.9 413.0 1627.2 414.6 1623.6 C416.2 1619.9 417.8 1616.2 419.3 1612.6 C420.9 1608.9 422.4 1605.2 423.9 1601.5 C425.4 1597.8 426.9 1594.1 428.4 1590.4 C429.9 1586.7 431.3 1583.0 432.8 1579.2 C434.2 1575.5 435.6 1571.8 437.0 1568.0 C438.5 1564.3 439.8 1560.5 441.2 1556.8 C442.6 1553.0 444.0 1549.2 445.3 1545.5 C446.7 1541.7 448.0 1537.9 449.4 1534.1 C450.7 1530.3 452.0 1526.5 453.3 1522.7 C454.6 1518.9 455.9 1515.1 457.2 1511.3 C458.5 1507.5 459.7 1503.7 461.0 1499.9 C462.3 1496.0 463.5 1492.2 464.8 1488.4 C466.0 1484.5 467.2 1480.7 468.5 1476.9 C469.7 1473.0 470.9 1469.2 472.1 1465.4 C473.3 1461.5 474.5 1457.7 475.7 1453.8 C476.9 1450.0 478.1 1446.1 479.3 1442.2 C480.5 1438.4 481.7 1434.5 482.8 1430.7 C484.0 1426.8 485.2 1423.0 486.4 1419.1 C487.5 1415.2 488.7 1411.4 489.9 1407.5 C491.0 1403.6 492.2 1399.8 493.3 1395.9 C494.5 1392.1 495.7 1388.2 496.8 1384.3 C498.0 1380.5 499.1 1376.6 500.3 1372.7 C501.5 1368.9 502.6 1365.0 503.8 1361.2 C505.0 1357.3 506.1 1353.4 507.3 1349.6 C508.5 1345.7 509.7 1341.9 510.9 1338.0 C512.1 1334.2 513.3 1330.3 514.5 1326.5 C515.7 1322.7 516.9 1318.8 518.1 1315.0 C519.3 1311.1 520.6 1307.3 521.8 1303.5 C523.1 1299.6 524.3 1295.8 525.6 1292.0 C526.9 1288.2 528.2 1284.4 529.5 1280.6 C530.8 1276.7 532.1 1272.9 533.4 1269.1 C534.7 1265.3 536.1 1261.5 537.4 1257.8 C538.8 1254.0 540.2 1250.2 541.6 1246.4 C543.0 1242.6 544.4 1238.9 545.8 1235.1 C547.3 1231.4 548.7 1227.6 550.2 1223.9 C551.7 1220.1 553.2 1216.4 554.7 1212.7 C556.3 1208.9 557.8 1205.2 559.4 1201.5 C561.0 1197.8 562.6 1194.1 564.2 1190.4 C565.8 1186.7 567.5 1183.1 569.2 1179.4 C570.9 1175.8 572.6 1172.1 574.3 1168.5 C576.1 1164.9 577.9 1161.3 579.7 1157.8 C581.5 1154.2 583.4 1150.6 585.3 1147.1 C587.2 1143.6 589.1 1140.1 591.1 1136.6 C593.0 1133.2 595.0 1129.7 597.1 1126.3 C599.1 1122.9 601.2 1119.6 603.4 1116.2 C605.5 1112.9 607.7 1109.6 609.9 1106.3 C612.1 1103.0 614.4 1099.8 616.7 1096.6 C619.1 1093.4 621.4 1090.3 623.9 1087.2 C626.3 1084.1 628.8 1081.0 631.3 1078.0 C633.8 1075.0 636.4 1072.0 639.0 1069.1 C641.7 1066.1 644.3 1063.2 647.1 1060.4 C649.8 1057.5 652.6 1054.7 655.4 1052.0 C658.2 1049.2 661.1 1046.5 664.0 1043.8 C666.9 1041.1 669.8 1038.4 672.8 1035.8 C675.8 1033.2 678.8 1030.6 681.8 1028.1 C684.9 1025.5 688.0 1023.0 691.1 1020.5 C694.2 1018.0 697.4 1015.6 700.6 1013.2 C703.8 1010.7 707.0 1008.3 710.2 1006.0 C713.5 1003.6 716.8 1001.3 720.1 999.0 C723.4 996.7 726.7 994.4 730.0 992.1 C733.4 989.9 736.8 987.6 740.1 985.4 C743.5 983.2 746.9 981.0 750.4 978.8 C753.8 976.7 757.2 974.5 760.7 972.4 C764.2 970.3 767.6 968.2 771.1 966.1 C774.6 964.0 778.1 961.9 781.6 959.8 C785.1 957.8 788.6 955.7 792.1 953.7 C795.7 951.7 799.2 949.6 802.7 947.6 C806.2 945.6 809.8 943.6 813.3 941.7 C816.9 939.7 820.4 937.7 823.9 935.7 C827.5 933.8 831.0 931.8 834.6 929.9 C838.2 928.0 841.7 926.0 845.3 924.1 C848.8 922.2 852.4 920.3 856.0 918.4 C859.6 916.5 863.1 914.7 866.7 912.8 C870.3 910.9 873.9 909.1 877.5 907.2 C881.1 905.4 884.7 903.5 888.3 901.7 C891.9 899.9 895.5 898.1 899.1 896.3 C902.7 894.5 906.3 892.7 909.9 890.9 C913.5 889.1 917.1 887.4 920.7 885.6 C924.4 883.8 928.0 882.1 931.6 880.3 C935.2 878.6 938.9 876.9 942.5 875.1 C946.1 873.4 949.8 871.7 953.4 870.0 C957.1 868.3 960.7 866.6 964.4 864.9 C968.0 863.2 971.7 861.6 975.3 859.9 C979.0 858.2 982.6 856.6 986.3 854.9 C990.0 853.3 993.6 851.7 997.3 850.0 C1001.0 848.4 1004.6 846.8 1008.3 845.2 C1012.0 843.6 1015.7 842.0 1019.3 840.4 C1023.0 838.8 1026.7 837.2 1030.4 835.6 C1034.1 834.0 1037.8 832.5 1041.5 830.9 C1045.2 829.4 1048.9 827.8 1052.6 826.3 C1056.3 824.7 1060.0 823.2 1063.7 821.6 C1067.4 820.1 1071.1 818.6 1074.8 817.1 C1078.5 815.6 1082.2 814.1 1085.9 812.6 C1089.6 811.1 1093.4 809.6 1097.1 808.1 C1100.8 806.6 1104.5 805.1 1108.3 803.7 C1112.0 802.2 1115.7 800.7 1119.5 799.3 C1123.2 797.8 1126.9 796.4 1130.7 794.9 C1134.4 793.5 1138.1 792.1 1141.9 790.6 C1145.6 789.2 1149.4 787.8 1153.1 786.4 C1156.9 785.0 1160.6 783.6 1164.4 782.2 C1168.1 780.7 1171.9 779.4 1175.6 778.0 C1179.4 776.6 1183.1 775.2 1186.9 773.8 C1190.7 772.4 1194.4 771.1 1198.2 769.7 C1202.0 768.3 1205.7 767.0 1209.5 765.6 C1213.3 764.2 1217.0 762.9 1220.8 761.5 C1224.6 760.2 1228.4 758.9 1232.1 757.5 C1235.9 756.2 1239.7 754.9 1243.5 753.5 C1247.3 752.2 1251.0 750.9 1254.8 749.6 C1258.6 748.3 1262.4 746.9 1266.2 745.6 C1270.0 744.3 1273.8 743.0 1277.5 741.7 C1281.3 740.4 1285.1 739.1 1288.9 737.8 C1292.7 736.6 1296.5 735.3 1300.3 734.0 C1304.1 732.7 1307.9 731.4 1311.7 730.2 C1315.5 728.9 1319.3 727.6 1323.1 726.3 C1326.9 725.1 1330.7 723.8 1334.5 722.6 C1338.3 721.3 1342.1 720.0 1345.9 718.8 C1349.8 717.5 1353.6 716.3 1357.4 715.0 C1361.2 713.8 1365.0 712.6 1368.8 711.3 C1372.6 710.1 1376.4 708.8 1380.2 707.6 C1384.1 706.4 1387.9 705.1 1391.7 703.9 C1395.5 702.7 1399.3 701.4 1403.2 700.2 C1407.0 699.0 1410.8 697.8 1414.6 696.6 C1418.4 695.3 1422.3 694.1 1426.1 692.9 C1429.9 691.7 1433.7 690.5 1437.5 689.3 C1441.4 688.0 1445.2 686.8 1449.0 685.6 C1452.8 684.4 1456.7 683.2 1460.5 682.0 C1464.3 680.8 1468.1 679.6 1472.0 678.4 C1475.8 677.2 1479.6 676.0 1483.5 674.8 C1487.3 673.6 1491.1 672.4 1494.9 671.2 C1498.8 670.0 1502.6 668.8 1506.4 667.6 C1510.3 666.4 1514.1 665.2 1517.9 664.0 C1521.8 662.8 1525.6 661.6 1529.4 660.4 C1533.2 659.2 1537.1 658.0 1540.9 656.8 C1544.7 655.6 1548.6 654.4 1552.4 653.2 C1556.2 652.0 1560.1 650.8 1563.9 649.6 C1567.7 648.4 1571.6 647.2 1575.4 646.0 C1579.2 644.8 1583.1 643.7 1586.9 642.5 C1590.7 641.3 1594.6 640.1 1598.4 638.9 C1602.2 637.7 1606.0 636.5 1609.9 635.3 C1613.7 634.1 1617.5 632.9 1621.4 631.7 C1625.2 630.5 1629.0 629.2 1632.9 628.0 C1636.7 626.8 1640.5 625.6 1644.3 624.4 C1648.2 623.2 1652.0 622.0 1655.8 620.8 C1659.7 619.6 1663.5 618.4 1667.3 617.2 C1671.1 615.9 1675.0 614.7 1678.8 613.5 C1682.6 612.3 1686.4 611.1 1690.3 609.8 C1694.1 608.6 1697.9 607.4 1701.7 606.2 C1705.5 604.9 1709.4 603.7 1713.2 602.5 C1717.0 601.2 1720.8 600.0 1724.6 598.8 C1728.5 597.5 1732.3 596.3 1736.1 595.0 C1739.9 593.8 1743.7 592.6 1747.5 591.3 C1751.4 590.1 1755.2 588.8 1759.0 587.5 C1762.8 586.3 1766.6 585.0 1770.4 583.8 C1774.2 582.5 1778.0 581.2 1781.8 580.0 C1785.7 578.7 1789.5 577.4 1793.3 576.1 C1797.1 574.9 1800.9 573.6 1804.7 572.3 C1808.5 571.0 1812.3 569.7 1816.1 568.4 C1819.9 567.1 1823.7 565.8 1827.5 564.5 C1831.3 563.2 1835.1 561.9 1838.9 560.6 C1842.7 559.3 1846.5 558.0 1850.2 556.7 C1854.0 555.3 1857.8 554.0 1861.6 552.7 C1865.4 551.4 1869.2 550.0 1873.0 548.7 C1876.7 547.3 1880.5 546.0 1884.3 544.6 C1888.1 543.3 1891.9 541.9 1895.6 540.6 C1899.4 539.2 1903.2 537.8 1907.0 536.5 C1910.7 535.1 1914.5 533.7 1918.3 532.3 C1922.1 530.9 1925.8 529.5 1929.6 528.1 C1933.3 526.8 1937.1 525.3 1940.9 523.9 C1944.6 522.5 1948.4 521.1 1952.1 519.7 C1955.9 518.3 1959.1 516.8 1963.4 515.4 C1968.8 513.6 1975.9 511.4 1982.0 510.1 C1987.7 508.9 1993.2 508.0 1998.7 507.8 C2004.0 507.6 2010.1 508.0 2014.5 508.8 C2017.8 509.4 2020.5 510.0 2022.9 511.5 C2025.1 512.9 2027.0 514.8 2028.4 517.1 C2030.0 519.7 2030.9 522.9 2031.7 526.4 C2032.7 530.5 2033.0 535.3 2033.5 540.3 C2034.1 546.0 2034.5 552.3 2034.9 558.8 C2035.3 566.1 2035.5 574.8 2035.8 582.0 C2036.1 588.4 2036.5 592.2 2036.8 600.0 C2037.3 614.2 2037.6 640.9 2038.0 660.0 C2038.4 677.4 2038.9 690.9 2039.2 710.0 C2039.5 735.6 2039.4 759.2 2039.4 800.0 C2039.5 886.4 2039.4 1069.5 2039.4 1204.3"/>
<path stroke="#ff00ff" stroke-opacity=".5" stroke-width="10" d="M348.8 1716.8 C350.0 1715.9 351.1 1715.1 352.5 1714.0 C354.4 1712.4 356.9 1710.4 359.0 1708.0 C361.6 1705.1 364.2 1700.9 366.5 1697.5 C368.6 1694.3 370.5 1691.5 372.4 1688.3 C374.4 1684.8 376.2 1681.0 378.1 1677.4 C380.0 1673.8 381.8 1670.1 383.6 1666.5 C385.4 1662.8 387.2 1659.2 388.9 1655.6 C390.6 1651.9 392.3 1648.2 394.0 1644.6 C395.7 1640.9 397.3 1637.3 399.0 1633.6 C400.6 1629.9 402.2 1626.2 403.7 1622.6 C405.3 1618.9 406.9 1615.2 408.4 1611.5 C409.9 1607.8 411.4 1604.1 412.9 1600.4 C414.4 1596.7 415.8 1593.0 417.3 1589.3 C418.7 1585.6 420.1 1581.9 421.5 1578.2 C423.0 1574.5 424.3 1570.8 425.7 1567.1 C427.1 1563.3 428.5 1559.6 429.8 1555.9 C431.2 1552.1 432.5 1548.4 433.9 1544.7 C435.2 1540.9 436.5 1537.2 437.8 1533.5 C439.2 1529.7 440.5 1526.0 441.8 1522.2 C443.1 1518.5 444.4 1514.7 445.7 1511.0 C447.0 1507.2 448.3 1503.4 449.6 1499.7 C450.9 1495.9 452.2 1492.1 453.4 1488.4 C454.7 1484.6 456.0 1480.8 457.3 1477.1 C458.6 1473.3 459.8 1469.5 461.1 1465.7 C462.4 1462.0 463.6 1458.2 464.9 1454.4 C466.2 1450.6 467.4 1446.8 468.7 1443.0 C470.0 1439.2 471.2 1435.5 472.5 1431.7 C473.7 1427.9 475.0 1424.1 476.3 1420.3 C477.5 1416.5 478.8 1412.7 480.0 1408.9 C481.3 1405.1 482.5 1401.3 483.8 1397.5 C485.0 1393.7 486.2 1389.9 487.5 1386.1 C488.7 1382.3 490.0 1378.4 491.2 1374.6 C492.5 1370.8 493.7 1367.0 495.0 1363.2 C496.2 1359.4 497.4 1355.6 498.7 1351.8 C499.9 1347.9 501.2 1344.1 502.4 1340.3 C503.6 1336.5 504.9 1332.7 506.1 1328.9 C507.4 1325.0 508.6 1321.2 509.8 1317.4 C511.1 1313.6 512.3 1309.8 513.6 1306.0 C514.8 1302.1 516.1 1298.3 517.3 1294.5 C518.6 1290.7 519.8 1286.9 521.1 1283.0 C522.3 1279.2 523.6 1275.4 524.8 1271.6 C526.1 1267.8 527.3 1263.9 528.6 1260.1 C529.8 1256.3 531.1 1252.5 532.3 1248.6 C533.6 1244.8 534.8 1241.0 536.1 1237.2 C537.4 1233.4 538.6 1229.6 539.9 1225.7 C541.2 1221.9 542.4 1218.1 543.7 1214.3 C545.0 1210.5 546.3 1206.7 547.6 1202.8 C548.8 1199.0 550.1 1195.2 551.4 1191.4 C552.7 1187.6 554.0 1183.8 555.3 1180.0 C556.6 1176.2 557.9 1172.3 559.2 1168.5 C560.5 1164.7 561.8 1160.9 563.1 1157.1 C564.4 1153.3 565.7 1149.5 567.0 1145.7 C568.3 1141.9 569.7 1138.1 571.0 1134.3 C572.3 1130.5 573.6 1126.7 575.0 1122.9 C576.3 1119.1 577.7 1115.3 579.0 1111.6 C580.4 1107.8 581.7 1104.0 583.1 1100.2 C584.5 1096.4 585.9 1092.7 587.3 1088.9 C588.7 1085.1 590.1 1081.4 591.5 1077.6 C592.9 1073.9 594.4 1070.2 595.8 1066.4 C597.3 1062.7 598.8 1059.0 600.3 1055.3 C601.8 1051.6 603.3 1047.9 604.9 1044.2 C606.4 1040.5 608.0 1036.8 609.6 1033.2 C611.2 1029.5 612.8 1025.9 614.5 1022.2 C616.2 1018.6 617.8 1015.0 619.6 1011.4 C621.3 1007.8 623.0 1004.2 624.8 1000.7 C626.6 997.1 628.4 993.6 630.3 990.1 C632.1 986.5 634.0 983.0 636.0 979.6 C637.9 976.1 639.9 972.6 641.9 969.2 C643.9 965.7 646.0 962.3 648.1 958.9 C650.2 955.6 652.3 952.2 654.5 948.9 C656.7 945.5 658.9 942.2 661.2 938.9 C663.5 935.6 665.8 932.3 668.1 929.1 C670.5 925.8 672.9 922.6 675.3 919.4 C677.7 916.2 680.2 913.1 682.7 909.9 C685.2 906.8 687.7 903.6 690.3 900.5 C692.8 897.4 695.4 894.3 698.0 891.3 C700.7 888.2 703.3 885.2 706.0 882.2 C708.7 879.1 711.4 876.2 714.2 873.2 C716.9 870.2 719.7 867.3 722.5 864.4 C725.3 861.4 728.1 858.5 730.9 855.7 C733.8 852.8 736.7 849.9 739.6 847.1 C742.4 844.3 745.4 841.4 748.3 838.7 C751.2 835.9 754.2 833.1 757.2 830.4 C760.1 827.6 763.1 824.9 766.1 822.2 C769.1 819.5 772.2 816.8 775.2 814.2 C778.2 811.5 781.3 808.9 784.3 806.3 C787.4 803.6 790.5 801.1 793.6 798.5 C796.7 795.9 799.8 793.4 802.9 790.8 C806.0 788.3 809.1 785.8 812.2 783.3 C815.3 780.8 818.5 778.4 821.6 775.9 C824.8 773.5 827.9 771.0 831.1 768.6 C834.2 766.2 837.4 763.8 840.6 761.5 C843.8 759.1 847.0 756.7 850.2 754.4 C853.4 752.1 856.6 749.7 859.8 747.4 C863.0 745.1 866.2 742.8 869.4 740.5 C872.7 738.3 875.9 736.0 879.2 733.8 C882.4 731.5 885.7 729.3 888.9 727.0 C892.2 724.8 895.5 722.6 898.7 720.4 C902.0 718.2 905.3 716.0 908.6 713.8 C911.9 711.7 915.2 709.5 918.5 707.3 C921.8 705.2 925.1 703.0 928.5 700.9 C931.8 698.7 935.1 696.6 938.5 694.5 C941.8 692.3 945.2 690.2 948.5 688.1 C951.9 686.0 955.2 683.9 958.6 681.8 C962.0 679.7 965.4 677.6 968.7 675.5 C972.1 673.4 975.5 671.3 978.9 669.3 C982.3 667.2 985.7 665.1 989.1 663.0 C992.6 660.9 996.0 658.9 999.4 656.8 C1002.8 654.7 1006.3 652.7 1009.7 650.6 C1013.2 648.5 1016.6 646.5 1020.1 644.4 C1023.5 642.4 1027.0 640.3 1030.5 638.3 C1033.9 636.3 1037.4 634.2 1040.9 632.2 C1044.4 630.2 1047.9 628.2 1051.4 626.2 C1054.9 624.2 1058.4 622.2 1061.9 620.2 C1065.4 618.2 1068.9 616.2 1072.4 614.3 C1075.9 612.3 1079.5 610.4 1083.0 608.4 C1086.5 606.5 1090.1 604.6 1093.6 602.7 C1097.1 600.8 1100.7 598.9 1104.3 597.0 C1107.8 595.2 1111.4 593.3 1114.9 591.4 C1118.5 589.6 1122.1 587.8 1125.7 585.9 C1129.2 584.1 1132.8 582.3 1136.4 580.5 C1140.0 578.7 1143.6 576.9 1147.2 575.2 C1150.8 573.4 1154.4 571.7 1158.0 569.9 C1161.6 568.2 1165.3 566.4 1168.9 564.7 C1172.5 563.0 1176.1 561.3 1179.8 559.6 C1183.4 557.9 1187.0 556.2 1190.7 554.5 C1194.3 552.9 1198.0 551.2 1201.6 549.6 C1205.3 547.9 1208.9 546.3 1212.6 544.7 C1216.2 543.0 1219.9 541.4 1223.6 539.8 C1227.3 538.2 1230.9 536.6 1234.6 535.0 C1238.3 533.5 1242.0 531.9 1245.7 530.3 C1249.4 528.8 1253.1 527.2 1256.8 525.7 C1260.4 524.1 1264.2 522.6 1267.9 521.1 C1271.6 519.6 1275.3 518.1 1279.0 516.6 C1282.7 515.1 1286.4 513.6 1290.1 512.1 C1293.9 510.6 1297.6 509.1 1301.3 507.7 C1305.1 506.2 1308.8 504.8 1312.5 503.3 C1316.3 501.9 1320.0 500.4 1323.8 499.0 C1327.5 497.6 1331.2 496.2 1335.0 494.8 C1338.8 493.4 1342.5 492.0 1346.3 490.6 C1350.0 489.2 1353.8 487.8 1357.6 486.4 C1361.3 485.1 1365.1 483.7 1368.9 482.3 C1372.6 481.0 1376.4 479.6 1380.2 478.3 C1384.0 476.9 1387.8 475.6 1391.5 474.3 C1395.3 473.0 1399.1 471.6 1402.9 470.3 C1406.7 469.0 1410.5 467.7 1414.3 466.4 C1418.1 465.1 1421.9 463.8 1425.7 462.5 C1429.5 461.2 1433.3 460.0 1437.1 458.7 C1440.9 457.4 1444.7 456.2 1448.5 454.9 C1452.3 453.6 1456.1 452.4 1460.0 451.1 C1463.8 449.9 1467.6 448.7 1471.4 447.4 C1475.2 446.2 1479.1 445.0 1482.9 443.7 C1486.7 442.5 1490.5 441.3 1494.4 440.1 C1498.2 438.9 1502.0 437.7 1505.9 436.5 C1509.7 435.3 1513.5 434.1 1517.4 432.9 C1521.2 431.7 1525.0 430.5 1528.9 429.3 C1532.7 428.1 1536.6 426.9 1540.4 425.8 C1544.2 424.6 1548.1 423.4 1551.9 422.3 C1555.8 421.1 1559.6 419.9 1563.5 418.8 C1567.3 417.6 1571.2 416.5 1575.0 415.3 C1578.9 414.2 1582.7 413.0 1586.6 411.9 C1590.4 410.7 1594.3 409.6 1598.1 408.5 C1602.0 407.3 1605.8 406.2 1609.7 405.1 C1613.6 403.9 1617.4 402.8 1621.3 401.7 C1625.1 400.5 1629.0 399.4 1632.9 398.3 C1636.7 397.2 1640.6 396.1 1644.4 395.0 C1648.3 393.8 1652.2 392.7 1656.0 391.6 C1659.9 390.5 1663.7 389.4 1667.6 388.3 C1671.5 387.2 1675.3 386.1 1679.2 385.0 C1683.1 383.9 1686.9 382.8 1690.8 381.7 C1694.7 380.6 1698.5 379.5 1702.4 378.4 C1706.2 377.3 1710.1 376.2 1714.0 375.1 C1717.8 374.0 1721.7 372.9 1725.6 371.8 C1729.4 370.7 1733.3 369.6 1737.1 368.5 C1741.0 367.4 1744.9 366.4 1748.7 365.3 C1752.6 364.2 1756.5 363.1 1760.3 362.0 C1764.2 360.9 1768.0 359.8 1771.9 358.7 C1775.8 357.6 1779.6 356.6 1783.5 355.5 C1787.3 354.4 1791.2 353.3 1795.0 352.2 C1798.9 351.1 1802.8 350.0 1806.6 348.9 C1810.5 347.8 1814.3 346.7 1818.2 345.7 C1822.0 344.6 1825.9 343.5 1829.7 342.4 C1833.6 341.3 1837.4 340.2 1841.3 339.1 C1845.1 338.0 1848.9 336.9 1852.8 335.8 C1856.6 334.8 1860.5 333.7 1864.3 332.7 C1868.2 331.8 1872.0 330.9 1875.8 330.2 C1879.7 329.4 1883.5 328.8 1887.3 328.3 C1891.2 327.9 1895.2 327.3 1898.8 327.5 C1902.2 327.8 1905.7 328.6 1908.4 329.7 C1910.6 330.6 1912.5 331.7 1914.0 333.4 C1915.7 335.3 1916.9 338.1 1917.7 340.8 C1918.6 343.9 1918.8 347.3 1919.1 351.0 C1919.5 355.3 1919.6 359.5 1919.7 364.9 C1919.9 372.6 1919.9 383.6 1920.0 392.8 C1920.1 401.9 1920.2 408.5 1920.2 420.0 C1920.3 439.6 1920.3 461.8 1920.3 500.0 C1920.4 596.2 1920.3 838.4 1920.3 1007.6"/>
<path stroke="#ff00ff" d="M348.8 1716.8 C350.0 1715.9 351.1 1715.1 352.5 1714.0 C354.4 1712.4 356.9 1710.4 359.0 1708.0 C361.6 1705.1 364.2 1700.9 366.5 1697.5 C368.6 1694.3 370.5 1691.5 372.4 1688.3 C374.4 1684.8 376.2 1681.0 378.1 1677.4 C380.0 1673.8 381.8 1670.1 383.6 1666.5 C385.4 1662.8 387.2 1659.2 388.9 1655.6 C390.6 1651.9 392.3 1648.2 394.0 1644.6 C395.7 1640.9 397.3 1637.3 399.0 1633.6 C400.6 1629.9 402.2 1626.2 403.7 1622.6 C405.3 1618.9 406.9 1615.2 408.4 1611.5 C409.9 1607.8 411.4 1604.1 412.9 1600.4 C414.4 1596.7 415.8 1593.0 417.3 1589.3 C418.7 1585.6 420.1 1581.9 421.5 1578.2 C423.0 1574.5 424.3 1570.8 425.7 1567.1 C427.1 1563.3 428.5 1559.6 429.8 1555.9 C431.2 1552.1 432.5 1548.4 433.9 1544.7 C435.2 1540.9 436.5 1537.2 437.8 1533.5 C439.2 1529.7 440.5 1526.0 441.8 1522.2 C443.1 1518.5 444.4 1514.7 445.7 1511.0 C447.0 1507.2 448.3 1503.4 449.6 1499.7 C450.9 1495.9 452.2 1492.1 453.4 1488.4 C454.7 1484.6 456.0 1480.8 457.3 1477.1 C458.6 1473.3 459.8 1469.5 461.1 1465.7 C462.4 1462.0 463.6 1458.2 464.9 1454.4 C466.2 1450.6 467.4 1446.8 468.7 1443.0 C470.0 1439.2 471.2 1435.5 472.5 1431.7 C473.7 1427.9 475.0 1424.1 476.3 1420.3 C477.5 1416.5 478.8 1412.7 480.0 1408.9 C481.3 1405.1 482.5 1401.3 483.8 1397.5 C485.0 1393.7 486.2 1389.9 487.5 1386.1 C488.7 1382.3 490.0 1378.4 491.2 1374.6 C492.5 1370.8 493.7 1367.0 495.0 1363.2 C496.2 1359.4 497.4 1355.6 498.7 1351.8 C499.9 1347.9 501.2 1344.1 502.4 1340.3 C503.6 1336.5 504.9 1332.7 506.1 1328.9 C507.4 1325.0 508.6 1321.2 509.8 1317.4 C511.1 1313.6 512.3 1309.8 513.6 1306.0 C514.8 1302.1 516.1 1298.3 517.3 1294.5 C518.6 1290.7 519.8 1286.9 521.1 1283.0 C522.3 1279.2 523.6 1275.4 524.8 1271.6 C526.1 1267.8 527.3 1263.9 528.6 1260.1 C529.8 1256.3 531.1 1252.5 532.3 1248.6 C533.6 1244.8 534.8 1241.0 536.1 1237.2 C537.4 1233.4 538.6 1229.6 539.9 1225.7 C541.2 1221.9 542.4 1218.1 543.7 1214.3 C545.0 1210.5 546.3 1206.7 547.6 1202.8 C548.8 1199.0 550.1 1195.2 551.4 1191.4 C552.7 1187.6 554.0 1183.8 555.3 1180.0 C556.6 1176.2 557.9 1172.3 559.2 1168.5 C560.5 1164.7 561.8 1160.9 563.1 1157.1 C564.4 1153.3 565.7 1149.5 567.0 1145.7 C568.3 1141.9 569.7 1138.1 571.0 1134.3 C572.3 1130.5 573.6 1126.7 575.0 1122.9 C576.3 1119.1 577.7 1115.3 579.0 1111.6 C580.4 1107.8 581.7 1104.0 583.1 1100.2 C584.5 1096.4 585.9 1092.7 587.3 1088.9 C588.7 1085.1 590.1 1081.4 591.5 1077.6 C592.9 1073.9 594.4 1070.2 595.8 1066.4 C597.3 1062.7 598.8 1059.0 600.3 1055.3 C601.8 1051.6 603.3 1047.9 604.9 1044.2 C606.4 1040.5 608.0 1036.8 609.6 1033.2 C611.2 1029.5 612.8 1025.9 614.5 1022.2 C616.2 1018.6 617.8 1015.0 619.6 1011.4 C621.3 1007.8 623.0 1004.2 624.8 1000.7 C626.6 997.1 628.4 993.6 630.3 990.1 C632.1 986.5 634.0 983.0 636.0 979.6 C637.9 976.1 639.9 972.6 641.9 969.2 C643.9 965.7 646.0 962.3 648.1 958.9 C650.2 955.6 652.3 952.2 654.5 948.9 C656.7 945.5 658.9 942.2 661.2 938.9 C663.5 935.6 665.8 932.3 668.1 929.1 C670.5 925.8 672.9 922.6 675.3 919.4 C677.7 916.2 680.2 913.1 682.7 909.9 C685.2 906.8 687.7 903.6 690.3 900.5 C692.8 897.4 695.4 894.3 698.0 891.3 C700.7 888.2 703.3 885.2 706.0 882.2 C708.7 879.1 711.4 876.2 714.2 873.2 C716.9 870.2 719.7 867.3 722.5 864.4 C725.3 861.4 728.1 858.5 730.9 855.7 C733.8 852.8 736.7 849.9 739.6 847.1 C742.4 844.3 745.4 841.4 748.3 838.7 C751.2 835.9 754.2 833.1 757.2 830.4 C760.1 827.6 763.1 824.9 766.1 822.2 C769.1 819.5 772.2 816.8 775.2 814.2 C778.2 811.5 781.3 808.9 784.3 806.3 C787.4 803.6 790.5 801.1 793.6 798.5 C796.7 795.9 799.8 793.4 802.9 790.8 C806.0 788.3 809.1 785.8 812.2 783.3 C815.3 780.8 818.5 778.4 821.6 775.9 C824.8 773.5 827.9 771.0 831.1 768.6 C834.2 766.2 837.4 763.8 840.6 761.5 C843.8 759.1 847.0 756.7 850.2 754.4 C853.4 752.1 856.6 749.7 859.8 747.4 C863.0 745.1 866.2 742.8 869.4 740.5 C872.7 738.3 875.9 736.0 879.2 733.8 C882.4 731.5 885.7 729.3 888.9 727.0 C892.2 724.8 895.5 722.6 898.7 720.4 C902.0 718.2 905.3 716.0 908.6 713.8 C911.9 711.7 915.2 709.5 918.5 707.3 C921.8 705.2 925.1 703.0 928.5 700.9 C931.8 698.7 935.1 696.6 938.5 694.5 C941.8 692.3 945.2 690.2 948.5 688.1 C951.9 686.0 955.2 683.9 958.6 681.8 C962.0 679.7 965.4 677.6 968.7 675.5 C972.1 673.4 975.5 671.3 978.9 669.3 C982.3 667.2 985.7 665.1 989.1 663.0 C992.6 660.9 996.0 658.9 999.4 656.8 C1002.8 654.7 1006.3 652.7 1009.7 650.6 C1013.2 648.5 1016.6 646.5 1020.1 644.4 C1023.5 642.4 1027.0 640.3 1030.5 638.3 C1033.9 636.3 1037.4 634.2 1040.9 632.2 C1044.4 630.2 1047.9 628.2 1051.4 626.2 C1054.9 624.2 1058.4 622.2 1061.9 620.2 C1065.4 618.2 1068.9 616.2 1072.4 614.3 C1075.9 612.3 1079.5 610.4 1083.0 608.4 C1086.5 606.5 1090.1 604.6 1093.6 602.7 C1097.1 600.8 1100.7 598.9 1104.3 597.0 C1107.8 595.2 1111.4 593.3 1114.9 591.4 C1118.5 589.6 1122.1 587.8 1125.7 585.9 C1129.2 584.1 1132.8 582.3 1136.4 580.5 C1140.0 578.7 1143.6 576.9 1147.2 575.2 C1150.8 573.4 1154.4 571.7 1158.0 569.9 C1161.6 568.2 1165.3 566.4 1168.9 564.7 C1172.5 563.0 1176.1 561.3 1179.8 559.6 C1183.4 557.9 1187.0 556.2 1190.7 554.5 C1194.3 552.9 1198.0 551.2 1201.6 549.6 C1205.3 547.9 1208.9 546.3 1212.6 544.7 C1216.2 543.0 1219.9 541.4 1223.6 539.8 C1227.3 538.2 1230.9 536.6 1234.6 535.0 C1238.3 533.5 1242.0 531.9 1245.7 530.3 C1249.4 528.8 1253.1 527.2 1256.8 525.7 C1260.4 524.1 1264.2 522.6 1267.9 521.1 C1271.6 519.6 1275.3 518.1 1279.0 516.6 C1282.7 515.1 1286.4 513.6 1290.1 512.1 C1293.9 510.6 1297.6 509.1 1301.3 507.7 C1305.1 506.2 1308.8 504.8 1312.5 503.3 C1316.3 501.9 1320.0 500.4 1323.8 499.0 C1327.5 497.6 1331.2 496.2 1335.0 494.8 C1338.8 493.4 1342.5 492.0 1346.3 490.6 C1350.0 489.2 1353.8 487.8 1357.6 486.4 C1361.3 485.1 1365.1 483.7 1368.9 482.3 C1372.6 481.0 1376.4 479.6 1380.2 478.3 C1384.0 476.9 1387.8 475.6 1391.5 474.3 C1395.3 473.0 1399.1 471.6 1402.9 470.3 C1406.7 469.0 1410.5 467.7 1414.3 466.4 C1418.1 465.1 1421.9 463.8 1425.7 462.5 C1429.5 461.2 1433.3 460.0 1437.1 458.7 C1440.9 457.4 1444.7 456.2 1448.5 454.9 C1452.3 453.6 1456.1 452.4 1460.0 451.1 C1463.8 449.9 1467.6 448.7 1471.4 447.4 C1475.2 446.2 1479.1 445.0 1482.9 443.7 C1486.7 442.5 1490.5 441.3 1494.4 440.1 C1498.2 438.9 1502.0 437.7 1505.9 436.5 C1509.7 435.3 1513.5 434.1 1517.4 432.9 C1521.2 431.7 1525.0 430.5 1528.9 429.3 C1532.7 428.1 1536.6 426.9 1540.4 425.8 C1544.2 424.6 1548.1 423.4 1551.9 422.3 C1555.8 421.1 1559.6 419.9 1563.5 418.8 C1567.3 417.6 1571.2 416.5 1575.0 415.3 C1578.9 414.2 1582.7 413.0 1586.6 411.9 C1590.4 410.7 1594.3 409.6 1598.1 408.5 C1602.0 407.3 1605.8 406.2 1609.7 405.1 C1613.6 403.9 1617.4 402.8 1621.3 401.7 C1625.1 400.5 1629.0 399.4 1632.9 398.3 C1636.7 397.2 1640.6 396.1 1644.4 395.0 C1648.3 393.8 1652.2 392.7 1656.0 391.6 C1659.9 390.5 1663.7 389.4 1667.6 388.3 C1671.5 387.2 1675.3 386.1 1679.2 385.0 C1683.1 383.9 1686.9 382.8 1690.8 381.7 C1694.7 380.6 1698.5 379.5 1702.4 378.4 C1706.2 377.3 1710.1 376.2 1714.0 375.1 C1717.8 374.0 1721.7 372.9 1725.6 371.8 C1729.4 370.7 1733.3 369.6 1737.1 368.5 C1741.0 367.4 1744.9 366.4 1748.7 365.3 C1752.6 364.2 1756.5 363.1 1760.3 362.0 C1764.2 360.9 1768.0 359.8 1771.9 358.7 C1775.8 357.6 1779.6 356.6 1783.5 355.5 C1787.3 354.4 1791.2 353.3 1795.0 352.2 C1798.9 351.1 1802.8 350.0 1806.6 348.9 C1810.5 347.8 1814.3 346.7 1818.2 345.7 C1822.0 344.6 1825.9 343.5 1829.7 342.4 C1833.6 341.3 1837.4 340.2 1841.3 339.1 C1845.1 338.0 1848.9 336.9 1852.8 335.8 C1856.6 334.8 1860.5 333.7 1864.3 332.7 C1868.2 331.8 1872.0 330.9 1875.8 330.2 C1879.7 329.4 1883.5 328.8 1887.3 328.3 C1891.2 327.9 1895.2 327.3 1898.8 327.5 C1902.2 327.8 1905.7 328.6 1908.4 329.7 C1910.6 330.6 1912.5 331.7 1914.0 333.4 C1915.7 335.3 1916.9 338.1 1917.7 340.8 C1918.6 343.9 1918.8 347.3 1919.1 351.0 C1919.5 355.3 1919.6 359.5 1919.7 364.9 C1919.9 372.6 1919.9 383.6 1920.0 392.8 C1920.1 401.9 1920.2 408.5 1920.2 420.0 C1920.3 439.6 1920.3 461.8 1920.3 500.0 C1920.4 596.2 1920.3 838.4 1920.3 1007.6"/>
<path stroke="#0000ff" stroke-opacity=".5" stroke-width="10" d="M348.8 1716.8 C355.9 1716.8 364.8 1716.9 370.0 1716.8 C373.0 1716.8 374.9 1716.8 377.0 1716.6 C378.7 1716.4 380.4 1716.3 381.7 1715.8 C382.8 1715.4 383.6 1714.8 384.6 1714.0 C385.9 1713.0 387.4 1711.5 388.8 1710.0 C390.3 1708.4 391.8 1706.5 393.2 1704.7 C394.5 1702.9 395.7 1701.2 396.9 1699.2 C398.2 1696.9 399.5 1694.2 400.8 1691.7 C402.1 1689.2 403.2 1687.0 404.6 1684.3 C406.2 1681.0 408.2 1677.1 410.0 1673.6 C411.8 1670.0 413.6 1666.4 415.3 1662.8 C417.0 1659.1 418.7 1655.5 420.3 1651.9 C422.0 1648.3 423.6 1644.6 425.2 1641.0 C426.8 1637.3 428.3 1633.7 429.9 1630.0 C431.4 1626.4 432.9 1622.7 434.4 1619.0 C435.9 1615.3 437.3 1611.6 438.8 1607.9 C440.2 1604.2 441.7 1600.5 443.1 1596.8 C444.5 1593.1 445.9 1589.4 447.2 1585.7 C448.6 1581.9 449.9 1578.2 451.3 1574.5 C452.6 1570.7 454.0 1567.0 455.3 1563.2 C456.6 1559.5 457.9 1555.7 459.2 1552.0 C460.5 1548.2 461.8 1544.4 463.1 1540.7 C464.4 1536.9 465.6 1533.1 466.9 1529.3 C468.2 1525.5 469.5 1521.8 470.7 1518.0 C472.0 1514.2 473.3 1510.4 474.6 1506.6 C475.8 1502.8 477.1 1499.0 478.4 1495.1 C479.6 1491.3 480.9 1487.5 482.2 1483.7 C483.4 1479.9 484.7 1476.1 486.0 1472.2 C487.2 1468.4 488.5 1464.6 489.7 1460.7 C491.0 1456.9 492.3 1453.1 493.5 1449.2 C494.8 1445.4 496.1 1441.6 497.3 1437.7 C498.6 1433.9 499.8 1430.0 501.1 1426.2 C502.3 1422.3 503.6 1418.5 504.8 1414.7 C506.1 1410.8 507.3 1407.0 508.6 1403.1 C509.8 1399.3 511.1 1395.4 512.3 1391.5 C513.6 1387.7 514.8 1383.8 516.1 1380.0 C517.3 1376.1 518.6 1372.3 519.8 1368.4 C521.1 1364.6 522.3 1360.7 523.6 1356.9 C524.8 1353.0 526.0 1349.2 527.3 1345.3 C528.5 1341.5 529.8 1337.6 531.0 1333.8 C532.2 1329.9 533.5 1326.1 534.7 1322.2 C535.9 1318.4 537.2 1314.5 538.4 1310.7 C539.6 1306.8 540.9 1303.0 542.1 1299.1 C543.3 1295.3 544.6 1291.5 545.8 1287.6 C547.0 1283.8 548.2 1280.0 549.5 1276.1 C550.7 1272.3 551.9 1268.5 553.1 1264.7 C554.4 1260.8 555.6 1257.0 556.8 1253.2 C558.0 1249.4 559.2 1245.6 560.5 1241.8 C561.7 1238.0 562.9 1234.2 564.1 1230.3 C565.3 1226.6 566.5 1222.8 567.8 1219.0 C569.0 1215.2 570.2 1211.4 571.4 1207.6 C572.6 1203.8 573.8 1200.1 575.0 1196.3 C576.2 1192.5 577.5 1188.8 578.7 1185.0 C579.9 1181.2 581.2 1177.5 582.4 1173.7 C583.6 1170.0 584.9 1166.3 586.2 1162.5 C587.4 1158.8 588.7 1155.1 590.0 1151.4 C591.3 1147.6 592.6 1143.9 594.0 1140.2 C595.3 1136.5 596.7 1132.8 598.1 1129.1 C599.5 1125.4 600.9 1121.8 602.3 1118.1 C603.7 1114.4 605.2 1110.8 606.7 1107.1 C608.2 1103.5 609.7 1099.8 611.3 1096.2 C612.9 1092.6 614.5 1088.9 616.1 1085.3 C617.8 1081.7 619.5 1078.2 621.2 1074.6 C623.0 1071.0 624.8 1067.5 626.6 1063.9 C628.5 1060.4 630.4 1056.9 632.3 1053.4 C634.2 1049.9 636.2 1046.4 638.3 1042.9 C640.3 1039.5 642.4 1036.0 644.5 1032.6 C646.6 1029.2 648.8 1025.8 651.0 1022.5 C653.2 1019.1 655.5 1015.8 657.8 1012.4 C660.1 1009.1 662.4 1005.8 664.8 1002.6 C667.2 999.3 669.6 996.1 672.1 992.9 C674.5 989.7 677.0 986.5 679.5 983.3 C682.0 980.2 684.6 977.1 687.2 974.0 C689.8 970.9 692.4 967.9 695.1 964.8 C697.7 961.8 700.4 958.8 703.1 955.9 C705.8 952.9 708.6 950.0 711.3 947.1 C714.1 944.3 716.9 941.4 719.7 938.6 C722.5 935.8 725.4 933.0 728.3 930.2 C731.1 927.5 734.0 924.8 737.0 922.1 C739.9 919.4 742.8 916.7 745.8 914.0 C748.8 911.4 751.8 908.8 754.8 906.2 C757.8 903.6 760.8 901.0 763.9 898.5 C766.9 895.9 770.0 893.4 773.1 890.9 C776.2 888.4 779.3 885.9 782.4 883.5 C785.5 881.0 788.7 878.6 791.8 876.2 C795.0 873.7 798.2 871.3 801.4 869.0 C804.6 866.6 807.8 864.2 811.0 861.8 C814.2 859.5 817.4 857.2 820.7 854.8 C823.9 852.5 827.2 850.2 830.4 847.9 C833.7 845.6 837.0 843.3 840.3 841.1 C843.6 838.8 846.9 836.5 850.2 834.3 C853.5 832.0 856.8 829.8 860.1 827.6 C863.4 825.3 866.7 823.1 870.1 820.9 C873.4 818.7 876.7 816.4 880.1 814.2 C883.4 812.0 886.8 809.8 890.1 807.6 C893.5 805.4 896.8 803.2 900.2 801.0 C903.5 798.8 906.9 796.6 910.2 794.4 C913.6 792.3 917.0 790.1 920.3 787.9 C923.7 785.7 927.1 783.6 930.4 781.4 C933.8 779.2 937.2 777.0 940.6 774.9 C943.9 772.7 947.3 770.6 950.7 768.4 C954.1 766.3 957.5 764.1 960.9 762.0 C964.3 759.8 967.7 757.7 971.1 755.6 C974.5 753.4 977.9 751.3 981.3 749.2 C984.7 747.0 988.1 744.9 991.5 742.8 C994.9 740.7 998.3 738.6 1001.8 736.5 C1005.2 734.4 1008.6 732.3 1012.0 730.2 C1015.5 728.1 1018.9 726.0 1022.3 723.9 C1025.8 721.8 1029.2 719.8 1032.6 717.7 C1036.1 715.6 1039.5 713.6 1043.0 711.5 C1046.4 709.4 1049.9 707.4 1053.3 705.3 C1056.8 703.3 1060.2 701.2 1063.7 699.2 C1067.1 697.2 1070.6 695.1 1074.1 693.1 C1077.5 691.1 1081.0 689.1 1084.5 687.0 C1088.0 685.0 1091.4 683.0 1094.9 681.0 C1098.4 679.0 1101.9 677.0 1105.4 675.0 C1108.9 673.1 1112.4 671.1 1115.9 669.1 C1119.4 667.1 1122.8 665.2 1126.4 663.2 C1129.9 661.2 1133.4 659.3 1136.9 657.3 C1140.4 655.4 1143.9 653.5 1147.4 651.5 C1150.9 649.6 1154.4 647.7 1158.0 645.7 C1161.5 643.8 1165.0 641.9 1168.6 640.0 C1172.1 638.1 1175.6 636.2 1179.2 634.3 C1182.7 632.4 1186.2 630.6 1189.8 628.7 C1193.3 626.8 1196.9 624.9 1200.4 623.1 C1204.0 621.2 1207.5 619.4 1211.1 617.5 C1214.7 615.7 1218.2 613.9 1221.8 612.0 C1225.4 610.2 1228.9 608.4 1232.5 606.6 C1236.1 604.8 1239.7 603.0 1243.2 601.2 C1246.8 599.4 1250.4 597.6 1254.0 595.8 C1257.6 594.0 1261.2 592.3 1264.8 590.5 C1268.4 588.7 1272.0 587.0 1275.6 585.3 C1279.2 583.5 1282.8 581.8 1286.4 580.0 C1290.0 578.3 1293.6 576.6 1297.2 574.9 C1300.9 573.2 1304.5 571.5 1308.1 569.8 C1311.7 568.1 1315.4 566.4 1319.0 564.8 C1322.6 563.1 1326.3 561.4 1329.9 559.8 C1333.5 558.1 1337.2 556.5 1340.8 554.9 C1344.5 553.2 1348.1 551.6 1351.8 550.0 C1355.5 548.4 1359.1 546.8 1362.8 545.2 C1366.4 543.6 1370.1 542.0 1373.8 540.4 C1377.5 538.8 1381.1 537.3 1384.8 535.7 C1388.5 534.2 1392.2 532.6 1395.9 531.1 C1399.5 529.6 1403.2 528.0 1406.9 526.5 C1410.6 525.0 1414.3 523.5 1418.0 522.0 C1421.7 520.5 1425.4 519.0 1429.2 517.6 C1432.9 516.1 1436.6 514.6 1440.3 513.2 C1444.0 511.7 1447.7 510.3 1451.5 508.9 C1455.2 507.4 1458.9 506.0 1462.7 504.6 C1466.4 503.2 1470.1 501.8 1473.9 500.4 C1477.6 499.1 1481.4 497.7 1485.1 496.3 C1488.9 495.0 1492.6 493.6 1496.4 492.3 C1500.1 490.9 1503.9 489.6 1507.7 488.3 C1511.4 487.0 1515.2 485.7 1519.0 484.4 C1522.7 483.1 1526.5 481.8 1530.3 480.5 C1534.1 479.3 1537.9 478.0 1541.7 476.8 C1545.4 475.5 1549.2 474.3 1553.0 473.1 C1556.8 471.8 1560.6 470.6 1564.4 469.4 C1568.3 468.2 1572.1 467.0 1575.9 465.8 C1579.7 464.7 1583.5 463.5 1587.3 462.3 C1591.2 461.2 1595.0 460.0 1598.8 458.9 C1602.6 457.8 1606.5 456.7 1610.3 455.6 C1614.2 454.4 1618.0 453.3 1621.8 452.3 C1625.7 451.2 1629.5 450.1 1633.4 449.0 C1637.3 448.0 1641.1 446.9 1645.0 445.9 C1648.8 444.8 1652.7 443.8 1656.6 442.8 C1660.5 441.8 1664.3 440.8 1668.2 439.8 C1672.1 438.8 1676.0 437.8 1679.9 436.8 C1683.8 435.8 1687.7 434.9 1691.5 433.9 C1695.4 433.0 1699.3 432.0 1703.3 431.1 C1707.2 430.2 1711.1 429.2 1715.0 428.3 C1718.9 427.4 1722.8 426.5 1726.7 425.7 C1730.7 424.8 1734.6 423.9 1738.5 423.0 C1742.5 422.2 1746.4 421.3 1750.3 420.5 C1754.3 419.7 1758.2 419.0 1762.2 418.2 C1766.1 417.5 1770.1 416.8 1774.0 416.1 C1778.0 415.4 1781.9 414.8 1785.9 414.2 C1789.9 413.7 1793.8 413.1 1797.8 412.7 C1801.8 412.2 1805.8 411.8 1809.8 411.5 C1813.7 411.2 1817.7 411.0 1821.7 410.8 C1825.7 410.6 1829.7 410.6 1833.7 410.6 C1837.7 410.6 1841.7 410.7 1845.7 410.9 C1849.7 411.1 1854.0 411.2 1857.8 411.9 C1861.1 412.5 1864.3 413.4 1867.0 414.8 C1869.5 416.1 1871.7 417.8 1873.5 419.9 C1875.4 422.2 1876.9 425.1 1878.1 428.2 C1879.5 431.8 1880.1 436.1 1880.9 440.3 C1881.8 444.8 1882.6 449.2 1883.2 454.2 C1883.9 459.9 1884.2 466.0 1884.6 472.8 C1885.1 481.0 1885.6 487.7 1886.0 500.0 C1886.7 525.8 1886.6 576.0 1886.8 620.0 C1887.1 673.9 1887.2 730.0 1887.3 800.0 C1887.4 898.1 1887.3 1035.5 1887.3 1153.2"/>
<path stroke="#0000ff" d="M348.8 1716.8 C355.9 1716.8 364.8 1716.9 370.0 1716.8 C373.0 1716.8 374.9 1716.8 377.0 1716.6 C378.7 1716.4 380.4 1716.3 381.7 1715.8 C382.8 1715.4 383.6 1714.8 384.6 1714.0 C385.9 1713.0 387.4 1711.5 388.8 1710.0 C390.3 1708.4 391.8 1706.5 393.2 1704.7 C394.5 1702.9 395.7 1701.2 396.9 1699.2 C398.2 1696.9 399.5 1694.2 400.8 1691.7 C402.1 1689.2 403.2 1687.0 404.6 1684.3 C406.2 1681.0 408.2 1677.1 410.0 1673.6 C411.8 1670.0 413.6 1666.4 415.3 1662.8 C417.0 1659.1 418.7 1655.5 420.3 1651.9 C422.0 1648.3 423.6 1644.6 425.2 1641.0 C426.8 1637.3 428.3 1633.7 429.9 1630.0 C431.4 1626.4 432.9 1622.7 434.4 1619.0 C435.9 1615.3 437.3 1611.6 438.8 1607.9 C440.2 1604.2 441.7 1600.5 443.1 1596.8 C444.5 1593.1 445.9 1589.4 447.2 1585.7 C448.6 1581.9 449.9 1578.2 451.3 1574.5 C452.6 1570.7 454.0 1567.0 455.3 1563.2 C456.6 1559.5 457.9 1555.7 459.2 1552.0 C460.5 1548.2 461.8 1544.4 463.1 1540.7 C464.4 1536.9 465.6 1533.1 466.9 1529.3 C468.2 1525.5 469.5 1521.8 470.7 1518.0 C472.0 1514.2 473.3 1510.4 474.6 1506.6 C475.8 1502.8 477.1 1499.0 478.4 1495.1 C479.6 1491.3 480.9 1487.5 482.2 1483.7 C483.4 1479.9 484.7 1476.1 486.0 1472.2 C487.2 1468.4 488.5 1464.6 489.7 1460.7 C491.0 1456.9 492.3 1453.1 493.5 1449.2 C494.8 1445.4 496.1 1441.6 497.3 1437.7 C498.6 1433.9 499.8 1430.0 501.1 1426.2 C502.3 1422.3 503.6 1418.5 504.8 1414.7 C506.1 1410.8 507.3 1407.0 508.6 1403.1 C509.8 1399.3 511.1 1395.4 512.3 1391.5 C513.6 1387.7 514.8 1383.8 516.1 1380.0 C517.3 1376.1 518.6 1372.3 519.8 1368.4 C521.1 1364.6 522.3 1360.7 523.6 1356.9 C524.8 1353.0 526.0 1349.2 527.3 1345.3 C528.5 1341.5 529.8 1337.6 531.0 1333.8 C532.2 1329.9 533.5 1326.1 534.7 1322.2 C535.9 1318.4 537.2 1314.5 538.4 1310.7 C539.6 1306.8 540.9 1303.0 542.1 1299.1 C543.3 1295.3 544.6 1291.5 545.8 1287.6 C547.0 1283.8 548.2 1280.0 549.5 1276.1 C550.7 1272.3 551.9 1268.5 553.1 1264.7 C554.4 1260.8 555.6 1257.0 556.8 1253.2 C558.0 1249.4 559.2 1245.6 560.5 1241.8 C561.7 1238.0 562.9 1234.2 564.1 1230.3 C565.3 1226.6 566.5 1222.8 567.8 1219.0 C569.0 1215.2 570.2 1211.4 571.4 1207.6 C572.6 1203.8 573.8 1200.1 575.0 1196.3 C576.2 1192.5 577.5 1188.8 578.7 1185.0 C579.9 1181.2 581.2 1177.5 582.4 1173.7 C583.6 1170.0 584.9 1166.3 586.2 1162.5 C587.4 1158.8 588.7 1155.1 590.0 1151.4 C591.3 1147.6 592.6 1143.9 594.0 1140.2 C595.3 1136.5 596.7 1132.8 598.1 1129.1 C599.5 1125.4 600.9 1121.8 602.3 1118.1 C603.7 1114.4 605.2 1110.8 606.7 1107.1 C608.2 1103.5 609.7 1099.8 611.3 1096.2 C612.9 1092.6 614.5 1088.9 616.1 1085.3 C617.8 1081.7 619.5 1078.2 621.2 1074.6 C623.0 1071.0 624.8 1067.5 626.6 1063.9 C628.5 1060.4 630.4 1056.9 632.3 1053.4 C634.2 1049.9 636.2 1046.4 638.3 1042.9 C640.3 1039.5 642.4 1036.0 644.5 1032.6 C646.6 1029.2 648.8 1025.8 651.0 1022.5 C653.2 1019.1 655.5 1015.8 657.8 1012.4 C660.1 1009.1 662.4 1005.8 664.8 1002.6 C667.2 999.3 669.6 996.1 672.1 992.9 C674.5 989.7 677.0 986.5 679.5 983.3 C682.0 980.2 684.6 977.1 687.2 974.0 C689.8 970.9 692.4 967.9 695.1 964.8 C697.7 961.8 700.4 958.8 703.1 955.9 C705.8 952.9 708.6 950.0 711.3 947.1 C714.1 944.3 716.9 941.4 719.7 938.6 C722.5 935.8 725.4 933.0 728.3 930.2 C731.1 927.5 734.0 924.8 737.0 922.1 C739.9 919.4 742.8 916.7 745.8 914.0 C748.8 911.4 751.8 908.8 754.8 906.2 C757.8 903.6 760.8 901.0 763.9 898.5 C766.9 895.9 770.0 893.4 773.1 890.9 C776.2 888.4 779.3 885.9 782.4 883.5 C785.5 881.0 788.7 878.6 791.8 876.2 C795.0 873.7 798.2 871.3 801.4 869.0 C804.6 866.6 807.8 864.2 811.0 861.8 C814.2 859.5 817.4 857.2 820.7 854.8 C823.9 852.5 827.2 850.2 830.4 847.9 C833.7 845.6 837.0 843.3 840.3 841.1 C843.6 838.8 846.9 836.5 850.2 834.3 C853.5 832.0 856.8 829.8 860.1 827.6 C863.4 825.3 866.7 823.1 870.1 820.9 C873.4 818.7 876.7 816.4 880.1 814.2 C883.4 812.0 886.8 809.8 890.1 807.6 C893.5 805.4 896.8 803.2 900.2 801.0 C903.5 798.8 906.9 796.6 910.2 794.4 C913.6 792.3 917.0 790.1 920.3 787.9 C923.7 785.7 927.1 783.6 930.4 781.4 C933.8 779.2 937.2 777.0 940.6 774.9 C943.9 772.7 947.3 770.6 950.7 768.4 C954.1 766.3 957.5 764.1 960.9 762.0 C964.3 759.8 967.7 757.7 971.1 755.6 C974.5 753.4 977.9 751.3 981.3 749.2 C984.7 747.0 988.1 744.9 991.5 742.8 C994.9 740.7 998.3 738.6 1001.8 736.5 C1005.2 734.4 1008.6 732.3 1012.0 730.2 C1015.5 728.1 1018.9 726.0 1022.3 723.9 C1025.8 721.8 1029.2 719.8 1032.6 717.7 C1036.1 715.6 1039.5 713.6 1043.0 711.5 C1046.4 709.4 1049.9 707.4 1053.3 705.3 C1056.8 703.3 1060.2 701.2 1063.7 699.2 C1067.1 697.2 1070.6 695.1 1074.1 693.1 C1077.5 691.1 1081.0 689.1 1084.5 687.0 C1088.0 685.0 1091.4 683.0 1094.9 681.0 C1098.4 679.0 1101.9 677.0 1105.4 675.0 C1108.9 673.1 1112.4 671.1 1115.9 669.1 C1119.4 667.1 1122.8 665.2 1126.4 663.2 C1129.9 661.2 1133.4 659.3 1136.9 657.3 C1140.4 655.4 1143.9 653.5 1147.4 651.5 C1150.9 649.6 1154.4 647.7 1158.0 645.7 C1161.5 643.8 1165.0 641.9 1168.6 640.0 C1172.1 638.1 1175.6 636.2 1179.2 634.3 C1182.7 632.4 1186.2 630.6 1189.8 628.7 C1193.3 626.8 1196.9 624.9 1200.4 623.1 C1204.0 621.2 1207.5 619.4 1211.1 617.5 C1214.7 615.7 1218.2 613.9 1221.8 612.0 C1225.4 610.2 1228.9 608.4 1232.5 606.6 C1236.1 604.8 1239.7 603.0 1243.2 601.2 C1246.8 599.4 1250.4 597.6 1254.0 595.8 C1257.6 594.0 1261.2 592.3 1264.8 590.5 C1268.4 588.7 1272.0 587.0 1275.6 585.3 C1279.2 583.5 1282.8 581.8 1286.4 580.0 C1290.0 578.3 1293.6 576.6 1297.2 574.9 C1300.9 573.2 1304.5 571.5 1308.1 569.8 C1311.7 568.1 1315.4 566.4 1319.0 564.8 C1322.6 563.1 1326.3 561.4 1329.9 559.8 C1333.5 558.1 1337.2 556.5 1340.8 554.9 C1344.5 553.2 1348.1 551.6 1351.8 550.0 C1355.5 548.4 1359.1 546.8 1362.8 545.2 C1366.4 543.6 1370.1 542.0 1373.8 540.4 C1377.5 538.8 1381.1 537.3 1384.8 535.7 C1388.5 534.2 1392.2 532.6 1395.9 531.1 C1399.5 529.6 1403.2 528.0 1406.9 526.5 C1410.6 525.0 1414.3 523.5 1418.0 522.0 C1421.7 520.5 1425.4 519.0 1429.2 517.6 C1432.9 516.1 1436.6 514.6 1440.3 513.2 C1444.0 511.7 1447.7 510.3 1451.5 508.9 C1455.2 507.4 1458.9 506.0 1462.7 504.6 C1466.4 503.2 1470.1 501.8 1473.9 500.4 C1477.6 499.1 1481.4 497.7 1485.1 496.3 C1488.9 495.0 1492.6 493.6 1496.4 492.3 C1500.1 490.9 1503.9 489.6 1507.7 488.3 C1511.4 487.0 1515.2 485.7 1519.0 484.4 C1522.7 483.1 1526.5 481.8 1530.3 480.5 C1534.1 479.3 1537.9 478.0 1541.7 476.8 C1545.4 475.5 1549.2 474.3 1553.0 473.1 C1556.8 471.8 1560.6 470.6 1564.4 469.4 C1568.3 468.2 1572.1 467.0 1575.9 465.8 C1579.7 464.7 1583.5 463.5 1587.3 462.3 C1591.2 461.2 1595.0 460.0 1598.8 458.9 C1602.6 457.8 1606.5 456.7 1610.3 455.6 C1614.2 454.4 1618.0 453.3 1621.8 452.3 C1625.7 451.2 1629.5 450.1 1633.4 449.0 C1637.3 448.0 1641.1 446.9 1645.0 445.9 C1648.8 444.8 1652.7 443.8 1656.6 442.8 C1660.5 441.8 1664.3 440.8 1668.2 439.8 C1672.1 438.8 1676.0 437.8 1679.9 436.8 C1683.8 435.8 1687.7 434.9 1691.5 433.9 C1695.4 433.0 1699.3 432.0 1703.3 431.1 C1707.2 430.2 1711.1 429.2 1715.0 428.3 C1718.9 427.4 1722.8 426.5 1726.7 425.7 C1730.7 424.8 1734.6 423.9 1738.5 423.0 C1742.5 422.2 1746.4 421.3 1750.3 420.5 C1754.3 419.7 1758.2 419.0 1762.2 418.2 C1766.1 417.5 1770.1 416.8 1774.0 416.1 C1778.0 415.4 1781.9 414.8 1785.9 414.2 C1789.9 413.7 1793.8 413.1 1797.8 412.7 C1801.8 412.2 1805.8 411.8 1809.8 411.5 C1813.7 411.2 1817.7 411.0 1821.7 410.8 C1825.7 410.6 1829.7 410.6 1833.7 410.6 C1837.7 410.6 1841.7 410.7 1845.7 410.9 C1849.7 411.1 1854.0 411.2 1857.8 411.9 C1861.1 412.5 1864.3 413.4 1867.0 414.8 C1869.5 416.1 1871.7 417.8 1873.5 419.9 C1875.4 422.2 1876.9 425.1 1878.1 428.2 C1879.5 431.8 1880.1 436.1 1880.9 440.3 C1881.8 444.8 1882.6 449.2 1883.2 454.2 C1883.9 459.9 1884.2 466.0 1884.6 472.8 C1885.1 481.0 1885.6 487.7 1886.0 500.0 C1886.7 525.8 1886.6 576.0 1886.8 620.0 C1887.1 673.9 1887.2 730.0 1887.3 800.0 C1887.4 898.1 1887.3 1035.5 1887.3 1153.2"/>
</g>
<path d="M346.4 1719.8 h31.5 M346.4 1618.7 h15.0 M346.4 1517.6 h31.5 M346.4 1416.5 h15.0 M346.4 1315.4 h31.5 M346.4 1214.3 h15.0 M346.4 1113.2 h31.5 M346.4 1012.1 h15.0 M346.4 911.0 h31.5 M346.4 809.9 h15.0 M346.4 708.8 h31.5 M346.4 607.6 h15.0 M346.4 506.5 h31.5 M346.4 405.4 h15.0 M346.4 304.3 h31.5 M346.4 203.2 h15.0 M548.9 1730.0 v-15.0 M751.0 1730.0 v-31.5 M953.1 1730.0 v-15.0 M1155.2 1730.0 v-31.5 M1357.3 1730.0 v-15.0 M1559.4 1730.0 v-31.5 M1761.5 1730.0 v-15.0 M1963.6 1730.0 v-31.5 M2165.7 1730.0 v-15.0" stroke="#000" stroke-width="5.4" fill="none"/>
<rect x="346.4" y="102.1" width="2021.4" height="1627.9" fill="none" stroke="#000" stroke-width="6.2"/>
<text class="t" x="312" y="1740.4" text-anchor="end">0</text>
<text class="t" x="312" y="1538.2" text-anchor="end">200</text>
<text class="t" x="312" y="1336.0" text-anchor="end">400</text>
<text class="t" x="312" y="1133.8" text-anchor="end">600</text>
<text class="t" x="312" y="931.6" text-anchor="end">800</text>
<text class="t" x="312" y="729.4" text-anchor="end">1000</text>
<text class="t" x="312" y="527.1" text-anchor="end">1200</text>
<text class="t" x="312" y="324.9" text-anchor="end">1400</text>
<text class="t" x="312" y="122.7" text-anchor="end">1600</text>
<text class="t" x="347.3" y="1818.5" text-anchor="middle">0</text>
<text class="t" x="751.5" y="1818.5" text-anchor="middle">10</text>
<text class="t" x="1155.7" y="1818.5" text-anchor="middle">20</text>
<text class="t" x="1559.9" y="1818.5" text-anchor="middle">30</text>
<text class="t" x="1964.1" y="1818.5" text-anchor="middle">40</text>
<text class="t" x="2368.3" y="1818.5" text-anchor="middle">50</text>
<text class="l" x="1279.6" y="1918.6" text-anchor="middle">Strain/%</text>
<text class="l" transform="translate(148.6 910.2) rotate(-90)" text-anchor="middle">Stress/MPa</text>
<path d="M433 175.8 H611" stroke="#00ff00" stroke-opacity=".5" stroke-width="11" fill="none"/>
<path d="M433.6 175.8 H610.6" stroke="#00ff00" stroke-width="6.5" fill="none"/>
<text class="g" x="627.8" y="201.7">TMC1</text>
<path d="M433 270.4 H611" stroke="#ff8000" stroke-opacity=".5" stroke-width="11" fill="none"/>
<path d="M433.6 270.4 H610.6" stroke="#ff8000" stroke-width="6.5" fill="none"/>
<text class="g" x="627.8" y="296.2">TMC2</text>
<path d="M433 364.9 H611" stroke="#ff00ff" stroke-opacity=".5" stroke-width="11" fill="none"/>
<path d="M433.6 364.9 H610.6" stroke="#ff00ff" stroke-width="6.5" fill="none"/>
<text class="g" x="627.8" y="390.7">TMC3</text>
<path d="M433 459.4 H611" stroke="#0000ff" stroke-opacity=".5" stroke-width="11" fill="none"/>
<path d="M433.6 459.4 H610.6" stroke="#0000ff" stroke-width="6.5" fill="none"/>
<text class="g" x="627.8" y="485.2">TMC4</text>
</svg></body></html>
